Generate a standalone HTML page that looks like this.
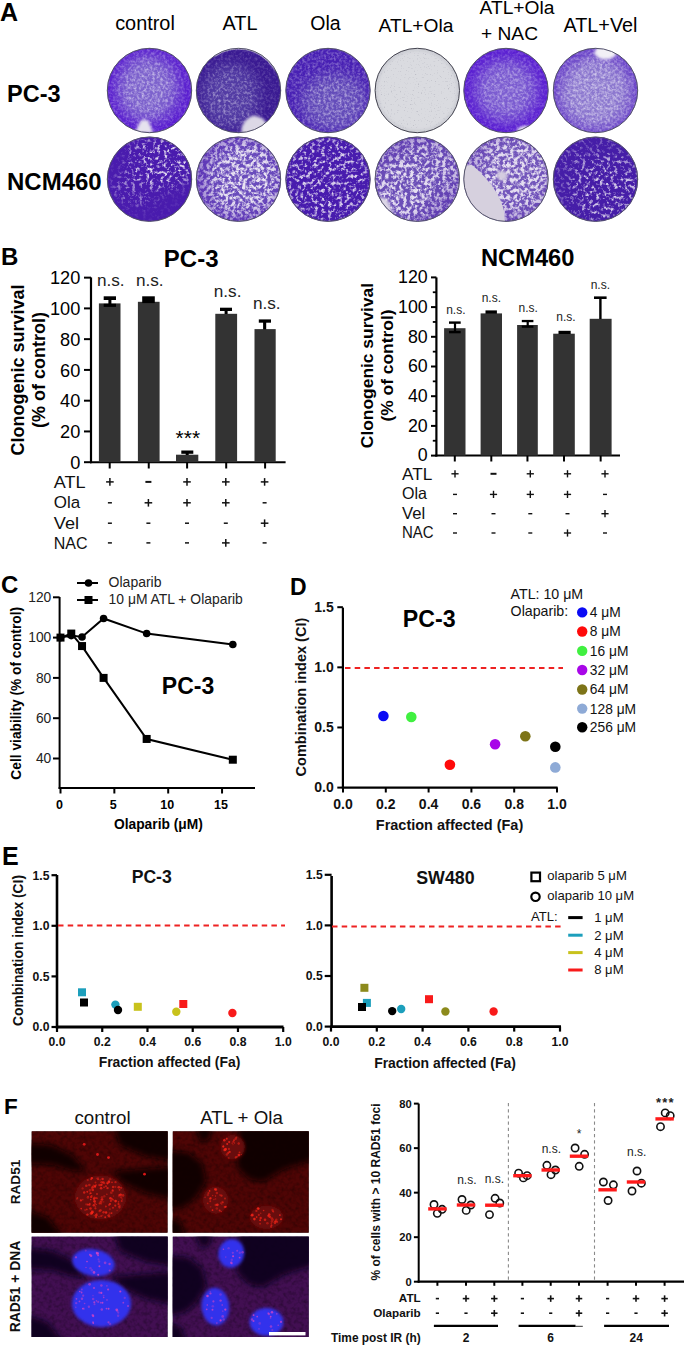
<!DOCTYPE html>
<html><head><meta charset="utf-8"><style>
html,body{margin:0;padding:0;background:#fff;}
svg{display:block;font-family:"Liberation Sans", sans-serif;}
</style></head><body>
<svg width="685" height="1346" viewBox="0 0 685 1346">
<defs>
<filter id="blur6" x="-20%" y="-20%" width="140%" height="140%"><feGaussianBlur stdDeviation="6"/></filter>
<filter id="blur1" x="-20%" y="-20%" width="140%" height="140%"><feGaussianBlur stdDeviation="1.5"/></filter>
<filter id="blur2" x="-30%" y="-30%" width="160%" height="160%"><feGaussianBlur stdDeviation="3"/></filter>
<filter id="blur4" x="-30%" y="-30%" width="160%" height="160%"><feGaussianBlur stdDeviation="5"/></filter>
<filter id="blur3" x="-30%" y="-30%" width="160%" height="160%"><feGaussianBlur stdDeviation="3"/></filter>
<filter id="blurh" x="-100%" y="-100%" width="300%" height="300%"><feGaussianBlur stdDeviation="0.5"/></filter>
<filter id="grain" x="0" y="0" width="100%" height="100%">
<feTurbulence type="fractalNoise" baseFrequency="0.25" numOctaves="2" seed="21" result="n"/>
<feColorMatrix in="n" type="matrix" values="0 0 0 0 0  0 0 0 0 0  0 0 0 0 0  2.2 0 0 0 -0.9"/>
</filter>
<filter id="fociR" x="-10%" y="-10%" width="120%" height="120%">
<feTurbulence type="fractalNoise" baseFrequency="0.33" numOctaves="1" seed="11" result="n"/>
<feColorMatrix in="n" type="matrix" values="0 0 0 0 0  0 0 0 0 0  0 0 0 0 0  6 0 0 0 -3.3" result="a"/>
<feFlood flood-color="#ff2a1a" result="f"/>
<feComposite in="f" in2="a" operator="in" result="d"/>
<feGaussianBlur in="d" stdDeviation="0.4" result="db"/>
<feComposite in="db" in2="SourceAlpha" operator="in"/>
</filter>
<filter id="fociM" x="-10%" y="-10%" width="120%" height="120%">
<feTurbulence type="fractalNoise" baseFrequency="0.33" numOctaves="1" seed="5" result="n"/>
<feColorMatrix in="n" type="matrix" values="0 0 0 0 0  0 0 0 0 0  0 0 0 0 0  6 0 0 0 -3.5" result="a"/>
<feFlood flood-color="#d840d0" result="f"/>
<feComposite in="f" in2="a" operator="in" result="d"/>
<feGaussianBlur in="d" stdDeviation="0.4" result="db"/>
<feComposite in="db" in2="SourceAlpha" operator="in"/>
</filter>
<clipPath id="dc0"><circle cx="149.5" cy="90.5" r="42.6"/></clipPath>
<mask id="dm0" maskUnits="userSpaceOnUse" x="101.9" y="42.9" width="95.2" height="95.2"><g filter="url(#blur6)"><rect x="101.9" y="42.9" width="95.2" height="95.2" fill="rgb(0,0,0)"/><ellipse cx="147.5" cy="88.5" rx="26" ry="28" fill="#fff" opacity="0.85"/></g></mask>
<mask id="dm0n" maskUnits="userSpaceOnUse" x="101.9" y="42.9" width="95.2" height="95.2"><g filter="url(#blur6)"><rect x="101.9" y="42.9" width="95.2" height="95.2" fill="rgb(114,114,114)"/><ellipse cx="147.5" cy="88.5" rx="26" ry="28" fill="#fff" opacity="0.85"/></g></mask>
<filter id="df0" x="0" y="0" width="100%" height="100%" filterUnits="objectBoundingBox"><feTurbulence type="fractalNoise" baseFrequency="0.38" numOctaves="3" seed="3" result="n"/><feColorMatrix in="n" type="matrix" values="0 0 0 0 0  0 0 0 0 0  0 0 0 0 0  1.3 0 0 0 -0.5" result="a"/><feFlood flood-color="#ffffff" result="f"/><feComposite in="f" in2="a" operator="in" result="c"/><feGaussianBlur in="c" stdDeviation="0.35"/></filter>
<clipPath id="dc1"><circle cx="238.5" cy="90.5" r="42.6"/></clipPath>
<mask id="dm1" maskUnits="userSpaceOnUse" x="190.9" y="42.9" width="95.2" height="95.2"><g filter="url(#blur6)"><rect x="190.9" y="42.9" width="95.2" height="95.2" fill="rgb(0,0,0)"/><ellipse cx="230.5" cy="96.5" rx="24" ry="28" fill="#fff" opacity="0.7"/></g></mask>
<mask id="dm1n" maskUnits="userSpaceOnUse" x="190.9" y="42.9" width="95.2" height="95.2"><g filter="url(#blur6)"><rect x="190.9" y="42.9" width="95.2" height="95.2" fill="rgb(89,89,89)"/><ellipse cx="230.5" cy="96.5" rx="24" ry="28" fill="#fff" opacity="0.7"/></g></mask>
<filter id="df1" x="0" y="0" width="100%" height="100%" filterUnits="objectBoundingBox"><feTurbulence type="fractalNoise" baseFrequency="0.38" numOctaves="3" seed="10" result="n"/><feColorMatrix in="n" type="matrix" values="0 0 0 0 0  0 0 0 0 0  0 0 0 0 0  1.3 0 0 0 -0.55" result="a"/><feFlood flood-color="#ffffff" result="f"/><feComposite in="f" in2="a" operator="in" result="c"/><feGaussianBlur in="c" stdDeviation="0.35"/></filter>
<clipPath id="dc2"><circle cx="328" cy="90.5" r="42.6"/></clipPath>
<mask id="dm2" maskUnits="userSpaceOnUse" x="280.4" y="42.9" width="95.2" height="95.2"><g filter="url(#blur6)"><rect x="280.4" y="42.9" width="95.2" height="95.2" fill="rgb(0,0,0)"/><ellipse cx="334" cy="102.5" rx="28" ry="24" fill="#fff" opacity="0.7"/></g></mask>
<mask id="dm2n" maskUnits="userSpaceOnUse" x="280.4" y="42.9" width="95.2" height="95.2"><g filter="url(#blur6)"><rect x="280.4" y="42.9" width="95.2" height="95.2" fill="rgb(140,140,140)"/><ellipse cx="334" cy="102.5" rx="28" ry="24" fill="#fff" opacity="0.7"/></g></mask>
<filter id="df2" x="0" y="0" width="100%" height="100%" filterUnits="objectBoundingBox"><feTurbulence type="fractalNoise" baseFrequency="0.38" numOctaves="3" seed="17" result="n"/><feColorMatrix in="n" type="matrix" values="0 0 0 0 0  0 0 0 0 0  0 0 0 0 0  1.3 0 0 0 -0.5" result="a"/><feFlood flood-color="#ffffff" result="f"/><feComposite in="f" in2="a" operator="in" result="c"/><feGaussianBlur in="c" stdDeviation="0.35"/></filter>
<clipPath id="dc3"><circle cx="417.3" cy="90.5" r="42.6"/></clipPath>
<mask id="dm3" maskUnits="userSpaceOnUse" x="369.7" y="42.9" width="95.2" height="95.2"><g filter="url(#blur6)"><rect x="369.7" y="42.9" width="95.2" height="95.2" fill="rgb(127,127,127)"/></g></mask>
<mask id="dm3n" maskUnits="userSpaceOnUse" x="369.7" y="42.9" width="95.2" height="95.2"><g filter="url(#blur6)"><rect x="369.7" y="42.9" width="95.2" height="95.2" fill="rgb(127,127,127)"/></g></mask>
<filter id="df3" x="0" y="0" width="100%" height="100%" filterUnits="objectBoundingBox"><feTurbulence type="fractalNoise" baseFrequency="0.7" numOctaves="2" seed="24" result="n"/><feColorMatrix in="n" type="matrix" values="0 0 0 0 0  0 0 0 0 0  0 0 0 0 0  3.0 0 0 0 -1.9" result="a"/><feFlood flood-color="#8a8a9a" result="f"/><feComposite in="f" in2="a" operator="in" result="c"/><feGaussianBlur in="c" stdDeviation="0.35"/></filter>
<clipPath id="dc4"><circle cx="506" cy="90.5" r="42.6"/></clipPath>
<mask id="dm4" maskUnits="userSpaceOnUse" x="458.4" y="42.9" width="95.2" height="95.2"><g filter="url(#blur6)"><rect x="458.4" y="42.9" width="95.2" height="95.2" fill="rgb(0,0,0)"/><ellipse cx="506" cy="90.5" rx="26" ry="26" fill="#fff" opacity="0.7"/></g></mask>
<mask id="dm4n" maskUnits="userSpaceOnUse" x="458.4" y="42.9" width="95.2" height="95.2"><g filter="url(#blur6)"><rect x="458.4" y="42.9" width="95.2" height="95.2" fill="rgb(102,102,102)"/><ellipse cx="506" cy="90.5" rx="26" ry="26" fill="#fff" opacity="0.7"/></g></mask>
<filter id="df4" x="0" y="0" width="100%" height="100%" filterUnits="objectBoundingBox"><feTurbulence type="fractalNoise" baseFrequency="0.38" numOctaves="3" seed="31" result="n"/><feColorMatrix in="n" type="matrix" values="0 0 0 0 0  0 0 0 0 0  0 0 0 0 0  1.3 0 0 0 -0.5" result="a"/><feFlood flood-color="#ffffff" result="f"/><feComposite in="f" in2="a" operator="in" result="c"/><feGaussianBlur in="c" stdDeviation="0.35"/></filter>
<clipPath id="dc5"><circle cx="595.5" cy="90.5" r="42.6"/></clipPath>
<mask id="dm5" maskUnits="userSpaceOnUse" x="547.9" y="42.9" width="95.2" height="95.2"><g filter="url(#blur6)"><rect x="547.9" y="42.9" width="95.2" height="95.2" fill="rgb(0,0,0)"/><ellipse cx="595.5" cy="92.5" rx="32" ry="32" fill="#fff" opacity="0.85"/></g></mask>
<mask id="dm5n" maskUnits="userSpaceOnUse" x="547.9" y="42.9" width="95.2" height="95.2"><g filter="url(#blur6)"><rect x="547.9" y="42.9" width="95.2" height="95.2" fill="rgb(127,127,127)"/><ellipse cx="595.5" cy="92.5" rx="32" ry="32" fill="#fff" opacity="0.85"/></g></mask>
<filter id="df5" x="0" y="0" width="100%" height="100%" filterUnits="objectBoundingBox"><feTurbulence type="fractalNoise" baseFrequency="0.38" numOctaves="3" seed="38" result="n"/><feColorMatrix in="n" type="matrix" values="0 0 0 0 0  0 0 0 0 0  0 0 0 0 0  1.3 0 0 0 -0.45" result="a"/><feFlood flood-color="#ffffff" result="f"/><feComposite in="f" in2="a" operator="in" result="c"/><feGaussianBlur in="c" stdDeviation="0.35"/></filter>
<clipPath id="dc6"><circle cx="149.5" cy="179.2" r="42.6"/></clipPath>
<mask id="dm6" maskUnits="userSpaceOnUse" x="101.9" y="131.6" width="95.2" height="95.2"><g filter="url(#blur6)"><rect x="101.9" y="131.6" width="95.2" height="95.2" fill="rgb(25,25,25)"/><ellipse cx="161.5" cy="163.2" rx="32" ry="22" fill="#fff" opacity="1.0"/><ellipse cx="137.5" cy="187.2" rx="22" ry="16" fill="#fff" opacity="0.5"/></g></mask>
<mask id="dm6n" maskUnits="userSpaceOnUse" x="101.9" y="131.6" width="95.2" height="95.2"><g filter="url(#blur6)"><rect x="101.9" y="131.6" width="95.2" height="95.2" fill="rgb(25,25,25)"/><ellipse cx="161.5" cy="163.2" rx="32" ry="22" fill="#fff" opacity="1.0"/><ellipse cx="137.5" cy="187.2" rx="22" ry="16" fill="#fff" opacity="0.5"/></g></mask>
<filter id="df6" x="0" y="0" width="100%" height="100%" filterUnits="objectBoundingBox"><feTurbulence type="fractalNoise" baseFrequency="0.28" numOctaves="4" seed="45" result="n"/><feColorMatrix in="n" type="matrix" values="0 0 0 0 0  0 0 0 0 0  0 0 0 0 0  4.0 0 0 0 -2.0" result="a"/><feFlood flood-color="#e8e2f2" result="f"/><feComposite in="f" in2="a" operator="in" result="c"/><feGaussianBlur in="c" stdDeviation="0.35"/></filter>
<clipPath id="dc7"><circle cx="238.5" cy="179.2" r="42.6"/></clipPath>
<mask id="dm7" maskUnits="userSpaceOnUse" x="190.9" y="131.6" width="95.2" height="95.2"><g filter="url(#blur6)"><rect x="190.9" y="131.6" width="95.2" height="95.2" fill="rgb(127,127,127)"/><ellipse cx="244.5" cy="177.2" rx="34" ry="34" fill="#fff" opacity="1.0"/><ellipse cx="228.5" cy="199.2" rx="20" ry="15" fill="#fff" opacity="0.5"/></g></mask>
<mask id="dm7n" maskUnits="userSpaceOnUse" x="190.9" y="131.6" width="95.2" height="95.2"><g filter="url(#blur6)"><rect x="190.9" y="131.6" width="95.2" height="95.2" fill="rgb(127,127,127)"/><ellipse cx="244.5" cy="177.2" rx="34" ry="34" fill="#fff" opacity="1.0"/><ellipse cx="228.5" cy="199.2" rx="20" ry="15" fill="#fff" opacity="0.5"/></g></mask>
<filter id="df7" x="0" y="0" width="100%" height="100%" filterUnits="objectBoundingBox"><feTurbulence type="fractalNoise" baseFrequency="0.28" numOctaves="4" seed="52" result="n"/><feColorMatrix in="n" type="matrix" values="0 0 0 0 0  0 0 0 0 0  0 0 0 0 0  4.0 0 0 0 -1.6" result="a"/><feFlood flood-color="#e8e2f2" result="f"/><feComposite in="f" in2="a" operator="in" result="c"/><feGaussianBlur in="c" stdDeviation="0.35"/></filter>
<clipPath id="dc8"><circle cx="328" cy="179.2" r="42.6"/></clipPath>
<mask id="dm8" maskUnits="userSpaceOnUse" x="280.4" y="131.6" width="95.2" height="95.2"><g filter="url(#blur6)"><rect x="280.4" y="131.6" width="95.2" height="95.2" fill="rgb(127,127,127)"/><ellipse cx="328" cy="179.2" rx="40" ry="40" fill="#fff" opacity="0.8"/></g></mask>
<mask id="dm8n" maskUnits="userSpaceOnUse" x="280.4" y="131.6" width="95.2" height="95.2"><g filter="url(#blur6)"><rect x="280.4" y="131.6" width="95.2" height="95.2" fill="rgb(127,127,127)"/><ellipse cx="328" cy="179.2" rx="40" ry="40" fill="#fff" opacity="0.8"/></g></mask>
<filter id="df8" x="0" y="0" width="100%" height="100%" filterUnits="objectBoundingBox"><feTurbulence type="fractalNoise" baseFrequency="0.28" numOctaves="4" seed="59" result="n"/><feColorMatrix in="n" type="matrix" values="0 0 0 0 0  0 0 0 0 0  0 0 0 0 0  4.0 0 0 0 -1.95" result="a"/><feFlood flood-color="#e8e2f2" result="f"/><feComposite in="f" in2="a" operator="in" result="c"/><feGaussianBlur in="c" stdDeviation="0.35"/></filter>
<clipPath id="dc9"><circle cx="417.3" cy="179.2" r="42.6"/></clipPath>
<mask id="dm9" maskUnits="userSpaceOnUse" x="369.7" y="131.6" width="95.2" height="95.2"><g filter="url(#blur6)"><rect x="369.7" y="131.6" width="95.2" height="95.2" fill="rgb(153,153,153)"/><ellipse cx="402.3" cy="189.2" rx="30" ry="30" fill="#fff" opacity="0.9"/><ellipse cx="427.3" cy="169.2" rx="30" ry="25" fill="#fff" opacity="0.7"/></g></mask>
<mask id="dm9n" maskUnits="userSpaceOnUse" x="369.7" y="131.6" width="95.2" height="95.2"><g filter="url(#blur6)"><rect x="369.7" y="131.6" width="95.2" height="95.2" fill="rgb(153,153,153)"/><ellipse cx="402.3" cy="189.2" rx="30" ry="30" fill="#fff" opacity="0.9"/><ellipse cx="427.3" cy="169.2" rx="30" ry="25" fill="#fff" opacity="0.7"/></g></mask>
<filter id="df9" x="0" y="0" width="100%" height="100%" filterUnits="objectBoundingBox"><feTurbulence type="fractalNoise" baseFrequency="0.28" numOctaves="4" seed="66" result="n"/><feColorMatrix in="n" type="matrix" values="0 0 0 0 0  0 0 0 0 0  0 0 0 0 0  4.0 0 0 0 -1.65" result="a"/><feFlood flood-color="#e8e2f2" result="f"/><feComposite in="f" in2="a" operator="in" result="c"/><feGaussianBlur in="c" stdDeviation="0.35"/></filter>
<clipPath id="dc10"><circle cx="506" cy="179.2" r="42.6"/></clipPath>
<mask id="dm10" maskUnits="userSpaceOnUse" x="458.4" y="131.6" width="95.2" height="95.2"><g filter="url(#blur6)"><rect x="458.4" y="131.6" width="95.2" height="95.2" fill="rgb(165,165,165)"/><ellipse cx="514" cy="174.2" rx="35" ry="35" fill="#fff" opacity="0.9"/></g></mask>
<mask id="dm10n" maskUnits="userSpaceOnUse" x="458.4" y="131.6" width="95.2" height="95.2"><g filter="url(#blur6)"><rect x="458.4" y="131.6" width="95.2" height="95.2" fill="rgb(165,165,165)"/><ellipse cx="514" cy="174.2" rx="35" ry="35" fill="#fff" opacity="0.9"/></g></mask>
<filter id="df10" x="0" y="0" width="100%" height="100%" filterUnits="objectBoundingBox"><feTurbulence type="fractalNoise" baseFrequency="0.28" numOctaves="4" seed="73" result="n"/><feColorMatrix in="n" type="matrix" values="0 0 0 0 0  0 0 0 0 0  0 0 0 0 0  4.0 0 0 0 -1.6" result="a"/><feFlood flood-color="#e8e2f2" result="f"/><feComposite in="f" in2="a" operator="in" result="c"/><feGaussianBlur in="c" stdDeviation="0.35"/></filter>
<clipPath id="dc11"><circle cx="595.5" cy="179.2" r="42.6"/></clipPath>
<mask id="dm11" maskUnits="userSpaceOnUse" x="547.9" y="131.6" width="95.2" height="95.2"><g filter="url(#blur6)"><rect x="547.9" y="131.6" width="95.2" height="95.2" fill="rgb(89,89,89)"/><ellipse cx="605.5" cy="189.2" rx="32" ry="32" fill="#fff" opacity="0.8"/><ellipse cx="580.5" cy="164.2" rx="15" ry="15" fill="#fff" opacity="0.2"/></g></mask>
<mask id="dm11n" maskUnits="userSpaceOnUse" x="547.9" y="131.6" width="95.2" height="95.2"><g filter="url(#blur6)"><rect x="547.9" y="131.6" width="95.2" height="95.2" fill="rgb(89,89,89)"/><ellipse cx="605.5" cy="189.2" rx="32" ry="32" fill="#fff" opacity="0.8"/><ellipse cx="580.5" cy="164.2" rx="15" ry="15" fill="#fff" opacity="0.2"/></g></mask>
<filter id="df11" x="0" y="0" width="100%" height="100%" filterUnits="objectBoundingBox"><feTurbulence type="fractalNoise" baseFrequency="0.28" numOctaves="4" seed="80" result="n"/><feColorMatrix in="n" type="matrix" values="0 0 0 0 0  0 0 0 0 0  0 0 0 0 0  4.0 0 0 0 -2.0" result="a"/><feFlood flood-color="#e8e2f2" result="f"/><feComposite in="f" in2="a" operator="in" result="c"/><feGaussianBlur in="c" stdDeviation="0.35"/></filter>
<clipPath id="cl_rc"><rect x="31.5" y="1131.2" width="136.2" height="101.6"/></clipPath>
<clipPath id="cl_ra"><rect x="172.6" y="1131.2" width="136.2" height="101.6"/></clipPath>
<clipPath id="cl_bc"><rect x="31.5" y="1236.5" width="136.2" height="100.5"/></clipPath>
<clipPath id="cl_ba"><rect x="172.6" y="1236.5" width="136.2" height="100.5"/></clipPath>
</defs>
<rect width="685" height="1346" fill="#fff"/>
<text x="0" y="21" font-size="25" font-weight="bold" text-anchor="start" fill="#000">A</text>
<text x="145" y="30" font-size="19.9" text-anchor="middle" fill="#000">control</text>
<text x="240" y="30" font-size="19.9" text-anchor="middle" fill="#000">ATL</text>
<text x="325.5" y="30" font-size="19.5" text-anchor="middle" fill="#000">Ola</text>
<text x="416" y="31.5" font-size="19.2" text-anchor="middle" fill="#000">ATL+Ola</text>
<text x="517" y="14" font-size="19.2" text-anchor="middle" fill="#000">ATL+Ola</text>
<text x="509.5" y="40" font-size="19.2" text-anchor="middle" fill="#000">+ NAC</text>
<text x="600.5" y="32" font-size="19.8" text-anchor="middle" fill="#000">ATL+Vel</text>
<text x="7" y="102" font-size="23.5" font-weight="bold" text-anchor="start" fill="#000">PC-3</text>
<text x="7" y="189.6" font-size="24" font-weight="bold" text-anchor="start" fill="#000">NCM460</text>
<g clip-path="url(#dc0)">
<circle cx="149.5" cy="90.5" r="42.6" fill="#5a1ed0"/>
<rect x="106.9" y="47.9" width="85.2" height="85.2" fill="#8470cc" mask="url(#dm0)"/>
<g mask="url(#dm0n)"><rect x="106.9" y="47.9" width="85.2" height="85.2" filter="url(#df0)" fill="#fff"/></g>
<path d="M0 0 l6 -12 q3 -3 8 0 l5 12 z" transform="translate(149.5 90.5) translate(-15 42.6)" fill="#e6e2ee" filter="url(#blur1)"/>
</g>
<circle cx="149.5" cy="90.5" r="42.2" fill="none" stroke="#55556a" stroke-width="1"/>
<g clip-path="url(#dc1)">
<circle cx="238.5" cy="90.5" r="42.6" fill="#3a1a92"/>
<rect x="195.9" y="47.9" width="85.2" height="85.2" fill="#5e4cac" mask="url(#dm1)"/>
<g mask="url(#dm1n)"><rect x="195.9" y="47.9" width="85.2" height="85.2" filter="url(#df1)" fill="#fff"/></g>
<path d="M0 0 q2 -10 12 -13 q10 1 13 8 q-2 8 -8 12 l-17 0 z" transform="translate(238.5 90.5) translate(3 38)" fill="#dcd8e6" filter="url(#blur1)"/>
<circle cx="238.5" cy="90.5" r="42" fill="none" stroke="#d4d0e0" stroke-width="1.6" stroke-dasharray="70 400" transform="rotate(-125 238.5 90.5)" filter="url(#blurh)"/>
</g>
<circle cx="238.5" cy="90.5" r="42.2" fill="none" stroke="#55556a" stroke-width="1"/>
<g clip-path="url(#dc2)">
<circle cx="328" cy="90.5" r="42.6" fill="#4820b4"/>
<rect x="285.4" y="47.9" width="85.2" height="85.2" fill="#7060bc" mask="url(#dm2)"/>
<g mask="url(#dm2n)"><rect x="285.4" y="47.9" width="85.2" height="85.2" filter="url(#df2)" fill="#fff"/></g>
</g>
<circle cx="328" cy="90.5" r="42.2" fill="none" stroke="#55556a" stroke-width="1"/>
<g clip-path="url(#dc3)">
<circle cx="417.3" cy="90.5" r="42.6" fill="#d8d9de"/>
<rect x="374.7" y="47.9" width="85.2" height="85.2" fill="#dcdde2" mask="url(#dm3)"/>
<g mask="url(#dm3n)"><rect x="374.7" y="47.9" width="85.2" height="85.2" filter="url(#df3)" fill="#fff"/></g>
<circle cx="417.3" cy="90.5" r="41" fill="none" stroke="#c4c6ce" stroke-width="2" filter="url(#blur1)"/>
</g>
<circle cx="417.3" cy="90.5" r="42.2" fill="none" stroke="#444450" stroke-width="1"/>
<g clip-path="url(#dc4)">
<circle cx="506" cy="90.5" r="42.6" fill="#5a1ed2"/>
<rect x="463.4" y="47.9" width="85.2" height="85.2" fill="#8a78d0" mask="url(#dm4)"/>
<g mask="url(#dm4n)"><rect x="463.4" y="47.9" width="85.2" height="85.2" filter="url(#df4)" fill="#fff"/></g>
<ellipse cx="0" cy="0" rx="9" ry="4.5" transform="translate(506 90.5) translate(20 40)" fill="#eceaf2" filter="url(#blur1)"/>
</g>
<circle cx="506" cy="90.5" r="42.2" fill="none" stroke="#55556a" stroke-width="1"/>
<g clip-path="url(#dc5)">
<circle cx="595.5" cy="90.5" r="42.6" fill="#6236c8"/>
<rect x="552.9" y="47.9" width="85.2" height="85.2" fill="#9484d0" mask="url(#dm5)"/>
<g mask="url(#dm5n)"><rect x="552.9" y="47.9" width="85.2" height="85.2" filter="url(#df5)" fill="#fff"/></g>
<ellipse cx="0" cy="0" rx="11" ry="7" transform="translate(595.5 90.5) translate(10 -38)" fill="#f2f0f6" filter="url(#blur1)"/>
</g>
<circle cx="595.5" cy="90.5" r="42.2" fill="none" stroke="#55556a" stroke-width="1"/>
<g clip-path="url(#dc6)">
<circle cx="149.5" cy="179.2" r="42.6" fill="#4a1cae"/>
<rect x="106.9" y="136.6" width="85.2" height="85.2" fill="#4a1cae" mask="url(#dm6)"/>
<g mask="url(#dm6n)"><rect x="106.9" y="136.6" width="85.2" height="85.2" filter="url(#df6)" fill="#fff"/></g>
</g>
<circle cx="149.5" cy="179.2" r="42.2" fill="none" stroke="#55556a" stroke-width="1"/>
<g clip-path="url(#dc7)">
<circle cx="238.5" cy="179.2" r="42.6" fill="#5424b2"/>
<rect x="195.9" y="136.6" width="85.2" height="85.2" fill="#6a4cbc" mask="url(#dm7)"/>
<g mask="url(#dm7n)"><rect x="195.9" y="136.6" width="85.2" height="85.2" filter="url(#df7)" fill="#fff"/></g>
</g>
<circle cx="238.5" cy="179.2" r="42.2" fill="none" stroke="#55556a" stroke-width="1"/>
<g clip-path="url(#dc8)">
<circle cx="328" cy="179.2" r="42.6" fill="#481cae"/>
<rect x="285.4" y="136.6" width="85.2" height="85.2" fill="#481cae" mask="url(#dm8)"/>
<g mask="url(#dm8n)"><rect x="285.4" y="136.6" width="85.2" height="85.2" filter="url(#df8)" fill="#fff"/></g>
</g>
<circle cx="328" cy="179.2" r="42.2" fill="none" stroke="#55556a" stroke-width="1"/>
<g clip-path="url(#dc9)">
<circle cx="417.3" cy="179.2" r="42.6" fill="#5226aa"/>
<rect x="374.7" y="136.6" width="85.2" height="85.2" fill="#6c50b8" mask="url(#dm9)"/>
<g mask="url(#dm9n)"><rect x="374.7" y="136.6" width="85.2" height="85.2" filter="url(#df9)" fill="#fff"/></g>
<path d="M0 0 q8 -4 14 0 q6 10 4 24 l-20 0 z" transform="translate(417.3 179.2) translate(-44 20)" fill="#dcd6e6" filter="url(#blur1)"/>
</g>
<circle cx="417.3" cy="179.2" r="42.2" fill="none" stroke="#55556a" stroke-width="1"/>
<g clip-path="url(#dc10)">
<circle cx="506" cy="179.2" r="42.6" fill="#5428a8"/>
<rect x="463.4" y="136.6" width="85.2" height="85.2" fill="#7458bc" mask="url(#dm10)"/>
<g mask="url(#dm10n)"><rect x="463.4" y="136.6" width="85.2" height="85.2" filter="url(#df10)" fill="#fff"/></g>
<path d="M-46 -13 L-40 -13 L-34.6 -14.8 L-29.2 -10.1 L-21.1 -2 L-14.4 6 L-9 14.1 L-5 22.2 L-2.3 30.2 L-1 44 L-46 44 Z" transform="translate(506 179.2)" fill="#d6d0de" filter="url(#blurh)"/>
<ellipse cx="0" cy="0" rx="5.4" ry="5" transform="translate(506 179.2) translate(-3.7 -3.4)" fill="#d4cce0" filter="url(#blur1)"/>
</g>
<circle cx="506" cy="179.2" r="42.2" fill="none" stroke="#55556a" stroke-width="1"/>
<g clip-path="url(#dc11)">
<circle cx="595.5" cy="179.2" r="42.6" fill="#461ea8"/>
<rect x="552.9" y="136.6" width="85.2" height="85.2" fill="#461ea8" mask="url(#dm11)"/>
<g mask="url(#dm11n)"><rect x="552.9" y="136.6" width="85.2" height="85.2" filter="url(#df11)" fill="#fff"/></g>
</g>
<circle cx="595.5" cy="179.2" r="42.2" fill="none" stroke="#55556a" stroke-width="1"/>
<text x="1" y="265" font-size="24" font-weight="bold" text-anchor="start" fill="#000">B</text>
<text x="191.2" y="267" font-size="24" font-weight="bold" text-anchor="middle" fill="#000">PC-3</text>
<line x1="91" y1="277.4" x2="91" y2="463.2" stroke="#000" stroke-width="2.2"/>
<line x1="84" y1="462.2" x2="91" y2="462.2" stroke="#000" stroke-width="2"/>
<text x="80.3" y="468.8" font-size="18.2" text-anchor="end" fill="#000">0</text>
<line x1="84" y1="431.44" x2="91" y2="431.44" stroke="#000" stroke-width="2"/>
<text x="80.3" y="438.04" font-size="18.2" text-anchor="end" fill="#000">20</text>
<line x1="84" y1="400.68" x2="91" y2="400.68" stroke="#000" stroke-width="2"/>
<text x="80.3" y="407.28000000000003" font-size="18.2" text-anchor="end" fill="#000">40</text>
<line x1="84" y1="369.91999999999996" x2="91" y2="369.91999999999996" stroke="#000" stroke-width="2"/>
<text x="80.3" y="376.52" font-size="18.2" text-anchor="end" fill="#000">60</text>
<line x1="84" y1="339.15999999999997" x2="91" y2="339.15999999999997" stroke="#000" stroke-width="2"/>
<text x="80.3" y="345.76" font-size="18.2" text-anchor="end" fill="#000">80</text>
<line x1="84" y1="308.4" x2="91" y2="308.4" stroke="#000" stroke-width="2"/>
<text x="80.3" y="315.0" font-size="18.2" text-anchor="end" fill="#000">100</text>
<line x1="84" y1="277.64" x2="91" y2="277.64" stroke="#000" stroke-width="2"/>
<text x="80.3" y="284.24" font-size="18.2" text-anchor="end" fill="#000">120</text>
<line x1="90" y1="462.2" x2="285.6" y2="462.2" stroke="#000" stroke-width="2"/>
<rect x="98.9" y="303.4" width="21.599999999999994" height="158.8" fill="#333"/>
<rect x="137.9" y="301.8" width="21.69999999999999" height="160.39999999999998" fill="#333"/>
<rect x="176" y="454.7" width="22.30000000000001" height="7.5" fill="#333"/>
<rect x="215.3" y="313.8" width="21.799999999999983" height="148.39999999999998" fill="#333"/>
<rect x="254.5" y="329.1" width="21.19999999999999" height="133.09999999999997" fill="#333"/>
<rect x="103.7" y="296.3" width="12.3" height="3.7" fill="#000"/>
<rect x="108.4" y="299" width="3" height="6" fill="#000"/>
<rect x="103.7" y="303.8" width="12.3" height="3.1" fill="#000"/>
<rect x="142.2" y="296.3" width="12.6" height="6.8" fill="#000"/>
<rect x="181.3" y="450.5" width="12" height="3.3" fill="#000"/>
<rect x="185.7" y="453" width="3" height="2" fill="#000"/>
<rect x="220" y="307.7" width="12" height="3.3" fill="#000"/>
<rect x="224.6" y="310" width="3" height="4" fill="#000"/>
<rect x="258.8" y="319.4" width="12.2" height="3.3" fill="#000"/>
<rect x="263.1" y="322" width="3.1" height="7.5" fill="#000"/>
<line x1="109.7" y1="462.2" x2="109.7" y2="468.5" stroke="#000" stroke-width="2"/>
<line x1="148.75" y1="462.2" x2="148.75" y2="468.5" stroke="#000" stroke-width="2"/>
<line x1="187.1" y1="462.2" x2="187.1" y2="468.5" stroke="#000" stroke-width="2"/>
<line x1="226.2" y1="462.2" x2="226.2" y2="468.5" stroke="#000" stroke-width="2"/>
<line x1="265.1" y1="462.2" x2="265.1" y2="468.5" stroke="#000" stroke-width="2"/>
<text x="110.8" y="285.5" font-size="17.2" text-anchor="middle" fill="#222">n.s.</text>
<text x="149.8" y="285.5" font-size="17.2" text-anchor="middle" fill="#222">n.s.</text>
<text x="227.6" y="297.3" font-size="17.2" text-anchor="middle" fill="#222">n.s.</text>
<text x="266.8" y="309.3" font-size="17.2" text-anchor="middle" fill="#222">n.s.</text>
<text x="187.8" y="445" font-size="21" text-anchor="middle" fill="#000">***</text>
<text x="24" y="370" font-size="18" font-weight="bold" text-anchor="middle" fill="#000" transform="rotate(-90 24 370)">Clonogenic survival</text>
<text x="44.5" y="370" font-size="18" font-weight="bold" text-anchor="middle" fill="#000" transform="rotate(-90 44.5 370)">(% of control)</text>
<text x="53.8" y="488.3" font-size="16.8" text-anchor="start" fill="#111" textLength="31.8" lengthAdjust="spacingAndGlyphs">ATL</text>
<text x="53.8" y="508.3" font-size="16.8" text-anchor="start" fill="#111" textLength="26.4" lengthAdjust="spacingAndGlyphs">Ola</text>
<text x="53.8" y="528.5" font-size="16.8" text-anchor="start" fill="#111" textLength="25.2" lengthAdjust="spacingAndGlyphs">Vel</text>
<text x="53.8" y="549" font-size="16.8" text-anchor="start" fill="#111" textLength="33.8" lengthAdjust="spacingAndGlyphs">NAC</text>
<line x1="106.10000000000001" y1="481.9" x2="113.7" y2="481.9" stroke="#111" stroke-width="1.5"/>
<line x1="109.9" y1="478.09999999999997" x2="109.9" y2="485.7" stroke="#111" stroke-width="1.5"/>
<line x1="145.4" y1="481.9" x2="151.4" y2="481.9" stroke="#111" stroke-width="2"/>
<line x1="183.2" y1="481.9" x2="190.8" y2="481.9" stroke="#111" stroke-width="1.5"/>
<line x1="187" y1="478.09999999999997" x2="187" y2="485.7" stroke="#111" stroke-width="1.5"/>
<line x1="222.0" y1="481.9" x2="229.60000000000002" y2="481.9" stroke="#111" stroke-width="1.5"/>
<line x1="225.8" y1="478.09999999999997" x2="225.8" y2="485.7" stroke="#111" stroke-width="1.5"/>
<line x1="260.8" y1="481.9" x2="268.40000000000003" y2="481.9" stroke="#111" stroke-width="1.5"/>
<line x1="264.6" y1="478.09999999999997" x2="264.6" y2="485.7" stroke="#111" stroke-width="1.5"/>
<line x1="107.9" y1="502.8" x2="111.9" y2="502.8" stroke="#111" stroke-width="1.5"/>
<line x1="144.6" y1="502.8" x2="152.20000000000002" y2="502.8" stroke="#111" stroke-width="1.5"/>
<line x1="148.4" y1="499.0" x2="148.4" y2="506.6" stroke="#111" stroke-width="1.5"/>
<line x1="183.2" y1="502.8" x2="190.8" y2="502.8" stroke="#111" stroke-width="1.5"/>
<line x1="187" y1="499.0" x2="187" y2="506.6" stroke="#111" stroke-width="1.5"/>
<line x1="222.0" y1="502.8" x2="229.60000000000002" y2="502.8" stroke="#111" stroke-width="1.5"/>
<line x1="225.8" y1="499.0" x2="225.8" y2="506.6" stroke="#111" stroke-width="1.5"/>
<line x1="262.6" y1="502.8" x2="266.6" y2="502.8" stroke="#111" stroke-width="1.5"/>
<line x1="107.9" y1="523.2" x2="111.9" y2="523.2" stroke="#111" stroke-width="1.5"/>
<line x1="146.4" y1="523.2" x2="150.4" y2="523.2" stroke="#111" stroke-width="1.5"/>
<line x1="185.0" y1="523.2" x2="189.0" y2="523.2" stroke="#111" stroke-width="1.5"/>
<line x1="223.8" y1="523.2" x2="227.8" y2="523.2" stroke="#111" stroke-width="1.5"/>
<line x1="260.8" y1="523.2" x2="268.40000000000003" y2="523.2" stroke="#111" stroke-width="1.5"/>
<line x1="264.6" y1="519.4000000000001" x2="264.6" y2="527.0" stroke="#111" stroke-width="1.5"/>
<line x1="107.9" y1="542.9" x2="111.9" y2="542.9" stroke="#111" stroke-width="1.5"/>
<line x1="146.4" y1="542.9" x2="150.4" y2="542.9" stroke="#111" stroke-width="1.5"/>
<line x1="185.0" y1="542.9" x2="189.0" y2="542.9" stroke="#111" stroke-width="1.5"/>
<line x1="222.0" y1="542.9" x2="229.60000000000002" y2="542.9" stroke="#111" stroke-width="1.5"/>
<line x1="225.8" y1="539.1" x2="225.8" y2="546.6999999999999" stroke="#111" stroke-width="1.5"/>
<line x1="262.6" y1="542.9" x2="266.6" y2="542.9" stroke="#111" stroke-width="1.5"/>
<text x="527.7" y="266" font-size="23.7" font-weight="bold" text-anchor="middle" fill="#000">NCM460</text>
<line x1="436.4" y1="277.4" x2="436.4" y2="456.6" stroke="#000" stroke-width="2.2"/>
<line x1="431" y1="455.6" x2="436.4" y2="455.6" stroke="#000" stroke-width="2"/>
<text x="427.7" y="461.40000000000003" font-size="17.8" text-anchor="end" fill="#000">0</text>
<line x1="432.8" y1="440.75" x2="436.4" y2="440.75" stroke="#000" stroke-width="1.8"/>
<line x1="431" y1="425.90000000000003" x2="436.4" y2="425.90000000000003" stroke="#000" stroke-width="2"/>
<text x="427.7" y="431.70000000000005" font-size="17.8" text-anchor="end" fill="#000">20</text>
<line x1="432.8" y1="411.05" x2="436.4" y2="411.05" stroke="#000" stroke-width="1.8"/>
<line x1="431" y1="396.20000000000005" x2="436.4" y2="396.20000000000005" stroke="#000" stroke-width="2"/>
<text x="427.7" y="402.00000000000006" font-size="17.8" text-anchor="end" fill="#000">40</text>
<line x1="432.8" y1="381.35" x2="436.4" y2="381.35" stroke="#000" stroke-width="1.8"/>
<line x1="431" y1="366.5" x2="436.4" y2="366.5" stroke="#000" stroke-width="2"/>
<text x="427.7" y="372.3" font-size="17.8" text-anchor="end" fill="#000">60</text>
<line x1="432.8" y1="351.65000000000003" x2="436.4" y2="351.65000000000003" stroke="#000" stroke-width="1.8"/>
<line x1="431" y1="336.8" x2="436.4" y2="336.8" stroke="#000" stroke-width="2"/>
<text x="427.7" y="342.6" font-size="17.8" text-anchor="end" fill="#000">80</text>
<line x1="432.8" y1="321.95000000000005" x2="436.4" y2="321.95000000000005" stroke="#000" stroke-width="1.8"/>
<line x1="431" y1="307.1" x2="436.4" y2="307.1" stroke="#000" stroke-width="2"/>
<text x="427.7" y="312.90000000000003" font-size="17.8" text-anchor="end" fill="#000">100</text>
<line x1="432.8" y1="292.25" x2="436.4" y2="292.25" stroke="#000" stroke-width="1.8"/>
<line x1="431" y1="277.4" x2="436.4" y2="277.4" stroke="#000" stroke-width="2"/>
<text x="427.7" y="283.2" font-size="17.8" text-anchor="end" fill="#000">120</text>
<line x1="435.4" y1="455.6" x2="620" y2="455.6" stroke="#000" stroke-width="2"/>
<rect x="444.1" y="328.2" width="21.399999999999977" height="127.40000000000003" fill="#333"/>
<rect x="480.6" y="313.4" width="21.399999999999977" height="142.20000000000005" fill="#333"/>
<rect x="517.1" y="325" width="20.699999999999932" height="130.60000000000002" fill="#333"/>
<rect x="553.2" y="333.7" width="21.59999999999991" height="121.90000000000003" fill="#333"/>
<rect x="589.7" y="318.8" width="21.899999999999977" height="136.8" fill="#333"/>
<rect x="449" y="321.4" width="11.7" height="2.4" fill="#000"/>
<rect x="453.9" y="322" width="2.2" height="10" fill="#000"/>
<rect x="449" y="330.9" width="11.7" height="2.4" fill="#000"/>
<rect x="485.5" y="310.4" width="11.4" height="3.4" fill="#000"/>
<rect x="521.8" y="319.9" width="11.6" height="2.3" fill="#000"/>
<rect x="526.6" y="321" width="2.2" height="5.5" fill="#000"/>
<rect x="521.8" y="325.6" width="11.6" height="2.2" fill="#000"/>
<rect x="558.5" y="330.8" width="12.2" height="3.2" fill="#000"/>
<rect x="594" y="296.4" width="12.6" height="2.6" fill="#000"/>
<rect x="599.2" y="297" width="2.4" height="22" fill="#000"/>
<line x1="454.8" y1="455.6" x2="454.8" y2="461.5" stroke="#000" stroke-width="2"/>
<line x1="491.3" y1="455.6" x2="491.3" y2="461.5" stroke="#000" stroke-width="2"/>
<line x1="527.45" y1="455.6" x2="527.45" y2="461.5" stroke="#000" stroke-width="2"/>
<line x1="564" y1="455.6" x2="564" y2="461.5" stroke="#000" stroke-width="2"/>
<line x1="600.65" y1="455.6" x2="600.65" y2="461.5" stroke="#000" stroke-width="2"/>
<text x="455.8" y="313.6" font-size="12" text-anchor="middle" fill="#222">n.s.</text>
<text x="491.3" y="302" font-size="12" text-anchor="middle" fill="#222">n.s.</text>
<text x="528.2" y="311.6" font-size="12" text-anchor="middle" fill="#222">n.s.</text>
<text x="566" y="321.4" font-size="12" text-anchor="middle" fill="#222">n.s.</text>
<text x="600.3" y="289" font-size="12" text-anchor="middle" fill="#222">n.s.</text>
<text x="372.5" y="365.5" font-size="17.4" font-weight="bold" text-anchor="middle" fill="#000" transform="rotate(-90 372.5 365.5)">Clonogenic survival</text>
<text x="392.6" y="365.5" font-size="17.4" font-weight="bold" text-anchor="middle" fill="#000" transform="rotate(-90 392.6 365.5)">(% of control)</text>
<text x="402" y="479.6" font-size="16.5" text-anchor="start" fill="#111" textLength="30.3" lengthAdjust="spacingAndGlyphs">ATL</text>
<text x="402" y="499.1" font-size="16.5" text-anchor="start" fill="#111" textLength="25" lengthAdjust="spacingAndGlyphs">Ola</text>
<text x="402" y="518.6" font-size="16.5" text-anchor="start" fill="#111" textLength="23.2" lengthAdjust="spacingAndGlyphs">Vel</text>
<text x="402" y="538" font-size="16.5" text-anchor="start" fill="#111" textLength="31.6" lengthAdjust="spacingAndGlyphs">NAC</text>
<line x1="451.4" y1="473.8" x2="458.6" y2="473.8" stroke="#111" stroke-width="1.4"/>
<line x1="455" y1="470.2" x2="455" y2="477.40000000000003" stroke="#111" stroke-width="1.4"/>
<line x1="490.5" y1="473.8" x2="496.5" y2="473.8" stroke="#111" stroke-width="2"/>
<line x1="526.6999999999999" y1="473.8" x2="533.9" y2="473.8" stroke="#111" stroke-width="1.4"/>
<line x1="530.3" y1="470.2" x2="530.3" y2="477.40000000000003" stroke="#111" stroke-width="1.4"/>
<line x1="563.9" y1="473.8" x2="571.1" y2="473.8" stroke="#111" stroke-width="1.4"/>
<line x1="567.5" y1="470.2" x2="567.5" y2="477.40000000000003" stroke="#111" stroke-width="1.4"/>
<line x1="601.4" y1="473.8" x2="608.6" y2="473.8" stroke="#111" stroke-width="1.4"/>
<line x1="605" y1="470.2" x2="605" y2="477.40000000000003" stroke="#111" stroke-width="1.4"/>
<line x1="453.0" y1="494.4" x2="457.0" y2="494.4" stroke="#111" stroke-width="1.4"/>
<line x1="489.9" y1="494.4" x2="497.1" y2="494.4" stroke="#111" stroke-width="1.4"/>
<line x1="493.5" y1="490.79999999999995" x2="493.5" y2="498.0" stroke="#111" stroke-width="1.4"/>
<line x1="526.6999999999999" y1="494.4" x2="533.9" y2="494.4" stroke="#111" stroke-width="1.4"/>
<line x1="530.3" y1="490.79999999999995" x2="530.3" y2="498.0" stroke="#111" stroke-width="1.4"/>
<line x1="563.9" y1="494.4" x2="571.1" y2="494.4" stroke="#111" stroke-width="1.4"/>
<line x1="567.5" y1="490.79999999999995" x2="567.5" y2="498.0" stroke="#111" stroke-width="1.4"/>
<line x1="603.0" y1="494.4" x2="607.0" y2="494.4" stroke="#111" stroke-width="1.4"/>
<line x1="453.0" y1="513.7" x2="457.0" y2="513.7" stroke="#111" stroke-width="1.4"/>
<line x1="491.5" y1="513.7" x2="495.5" y2="513.7" stroke="#111" stroke-width="1.4"/>
<line x1="528.3" y1="513.7" x2="532.3" y2="513.7" stroke="#111" stroke-width="1.4"/>
<line x1="565.5" y1="513.7" x2="569.5" y2="513.7" stroke="#111" stroke-width="1.4"/>
<line x1="601.4" y1="513.7" x2="608.6" y2="513.7" stroke="#111" stroke-width="1.4"/>
<line x1="605" y1="510.1" x2="605" y2="517.3000000000001" stroke="#111" stroke-width="1.4"/>
<line x1="453.0" y1="533" x2="457.0" y2="533" stroke="#111" stroke-width="1.4"/>
<line x1="491.5" y1="533" x2="495.5" y2="533" stroke="#111" stroke-width="1.4"/>
<line x1="528.3" y1="533" x2="532.3" y2="533" stroke="#111" stroke-width="1.4"/>
<line x1="563.9" y1="533" x2="571.1" y2="533" stroke="#111" stroke-width="1.4"/>
<line x1="567.5" y1="529.4" x2="567.5" y2="536.6" stroke="#111" stroke-width="1.4"/>
<line x1="603.0" y1="533" x2="607.0" y2="533" stroke="#111" stroke-width="1.4"/>
<text x="1" y="593" font-size="24" font-weight="bold" text-anchor="start" fill="#000">C</text>
<line x1="59.6" y1="597" x2="59.6" y2="789" stroke="#000" stroke-width="2"/>
<line x1="53" y1="758.5" x2="59.6" y2="758.5" stroke="#000" stroke-width="2"/>
<text x="51.3" y="763.3" font-size="13.8" text-anchor="end" fill="#222">40</text>
<line x1="53" y1="718.2" x2="59.6" y2="718.2" stroke="#000" stroke-width="2"/>
<text x="51.3" y="723.0" font-size="13.8" text-anchor="end" fill="#222">60</text>
<line x1="53" y1="677.9" x2="59.6" y2="677.9" stroke="#000" stroke-width="2"/>
<text x="51.3" y="682.6999999999999" font-size="13.8" text-anchor="end" fill="#222">80</text>
<line x1="53" y1="637.6" x2="59.6" y2="637.6" stroke="#000" stroke-width="2"/>
<text x="51.3" y="642.4" font-size="13.8" text-anchor="end" fill="#222">100</text>
<line x1="53" y1="597.3000000000001" x2="59.6" y2="597.3000000000001" stroke="#000" stroke-width="2"/>
<text x="51.3" y="602.1" font-size="13.8" text-anchor="end" fill="#222">120</text>
<line x1="58.6" y1="788" x2="255" y2="788" stroke="#000" stroke-width="2"/>
<line x1="60.5" y1="788" x2="60.5" y2="793.5" stroke="#000" stroke-width="2"/>
<text x="59.5" y="809" font-size="12.5" font-weight="bold" text-anchor="middle" fill="#000">0</text>
<line x1="114.35" y1="788" x2="114.35" y2="793.5" stroke="#000" stroke-width="2"/>
<text x="113.35" y="809" font-size="12.5" font-weight="bold" text-anchor="middle" fill="#000">5</text>
<line x1="168.2" y1="788" x2="168.2" y2="793.5" stroke="#000" stroke-width="2"/>
<text x="167.2" y="809" font-size="12.5" font-weight="bold" text-anchor="middle" fill="#000">10</text>
<line x1="222.04999999999998" y1="788" x2="222.04999999999998" y2="793.5" stroke="#000" stroke-width="2"/>
<text x="221.04999999999998" y="809" font-size="12.5" font-weight="bold" text-anchor="middle" fill="#000">15</text>
<text x="158.4" y="828.6" font-size="13.8" font-weight="bold" text-anchor="middle" fill="#000">Olaparib (μM)</text>
<polyline points="60.5,637.6 71.3,635.6 82.0,637.0 103.6,618.5 146.7,633.6 232.8,644.5" fill="none" stroke="#000" stroke-width="2"/>
<polyline points="60.5,637.6 71.3,633.6 82.0,646.1 103.6,677.9 146.7,739.0 232.8,759.7" fill="none" stroke="#000" stroke-width="2"/>
<circle cx="60.5" cy="637.6" r="3.8" fill="#000"/>
<circle cx="71.27" cy="635.585" r="3.8" fill="#000"/>
<circle cx="82.03999999999999" cy="636.9955" r="3.8" fill="#000"/>
<circle cx="103.58" cy="618.4575" r="3.8" fill="#000"/>
<circle cx="146.66" cy="633.57" r="3.8" fill="#000"/>
<circle cx="232.82" cy="644.451" r="3.8" fill="#000"/>
<rect x="56.5" y="633.6" width="8" height="8" fill="#000"/>
<rect x="67.27" y="629.57" width="8" height="8" fill="#000"/>
<rect x="78.03999999999999" y="642.063" width="8" height="8" fill="#000"/>
<rect x="99.58" y="673.9" width="8" height="8" fill="#000"/>
<rect x="142.66" y="734.9545" width="8" height="8" fill="#000"/>
<rect x="228.82" y="755.7090000000001" width="8" height="8" fill="#000"/>
<line x1="77" y1="583" x2="98" y2="583" stroke="#000" stroke-width="2"/>
<circle cx="88.5" cy="583" r="3.8" fill="#000"/>
<text x="108.6" y="587.2" font-size="14" text-anchor="start" fill="#222">Olaparib</text>
<line x1="77" y1="600" x2="98" y2="600" stroke="#000" stroke-width="2"/>
<rect x="84.5" y="596" width="8" height="8" fill="#000"/>
<text x="108.6" y="604.4" font-size="13.9" text-anchor="start" fill="#222">10 μM ATL + Olaparib</text>
<text x="188" y="693.5" font-size="23" font-weight="bold" text-anchor="middle" fill="#000">PC-3</text>
<text x="21" y="693.3" font-size="13.75" font-weight="bold" text-anchor="middle" fill="#000" transform="rotate(-90 21 693.3)">Cell viability (% of control)</text>
<text x="290" y="595" font-size="23" font-weight="bold" text-anchor="start" fill="#000">D</text>
<line x1="342.9" y1="607.6" x2="342.9" y2="788.6" stroke="#000" stroke-width="2.2"/>
<line x1="337.3" y1="787.6" x2="342.9" y2="787.6" stroke="#000" stroke-width="2"/>
<text x="333.8" y="792.2" font-size="14" font-weight="bold" text-anchor="end" fill="#111">0.0</text>
<line x1="337.3" y1="727.465" x2="342.9" y2="727.465" stroke="#000" stroke-width="2"/>
<text x="333.8" y="732.065" font-size="14" font-weight="bold" text-anchor="end" fill="#111">0.5</text>
<line x1="337.3" y1="667.33" x2="342.9" y2="667.33" stroke="#000" stroke-width="2"/>
<text x="333.8" y="671.9300000000001" font-size="14" font-weight="bold" text-anchor="end" fill="#111">1.0</text>
<line x1="337.3" y1="607.195" x2="342.9" y2="607.195" stroke="#000" stroke-width="2"/>
<text x="333.8" y="611.7950000000001" font-size="14" font-weight="bold" text-anchor="end" fill="#111">1.5</text>
<line x1="341.9" y1="787.6" x2="557.6" y2="787.6" stroke="#000" stroke-width="2.2"/>
<line x1="343.0" y1="787.6" x2="343.0" y2="792.5" stroke="#000" stroke-width="2"/>
<text x="343.0" y="808.6" font-size="14" font-weight="bold" text-anchor="middle" fill="#111">0.0</text>
<line x1="385.8" y1="787.6" x2="385.8" y2="792.5" stroke="#000" stroke-width="2"/>
<text x="385.8" y="808.6" font-size="14" font-weight="bold" text-anchor="middle" fill="#111">0.2</text>
<line x1="428.6" y1="787.6" x2="428.6" y2="792.5" stroke="#000" stroke-width="2"/>
<text x="428.6" y="808.6" font-size="14" font-weight="bold" text-anchor="middle" fill="#111">0.4</text>
<line x1="471.4" y1="787.6" x2="471.4" y2="792.5" stroke="#000" stroke-width="2"/>
<text x="471.4" y="808.6" font-size="14" font-weight="bold" text-anchor="middle" fill="#111">0.6</text>
<line x1="514.2" y1="787.6" x2="514.2" y2="792.5" stroke="#000" stroke-width="2"/>
<text x="514.2" y="808.6" font-size="14" font-weight="bold" text-anchor="middle" fill="#111">0.8</text>
<line x1="557.0" y1="787.6" x2="557.0" y2="792.5" stroke="#000" stroke-width="2"/>
<text x="557.0" y="808.6" font-size="14" font-weight="bold" text-anchor="middle" fill="#111">1.0</text>
<text x="449.5" y="830.2" font-size="14.5" font-weight="bold" text-anchor="middle" fill="#111">Fraction affected (Fa)</text>
<line x1="345" y1="668" x2="563" y2="668" stroke="#ee2222" stroke-width="2" stroke-dasharray="5.5 4.2"/>
<circle cx="383.4" cy="716" r="5.3" fill="#0a0af5"/>
<circle cx="411.3" cy="717" r="5.3" fill="#40f040"/>
<circle cx="449.9" cy="764.8" r="5.3" fill="#ff0a0a"/>
<circle cx="495.1" cy="744.3" r="5.3" fill="#a806e8"/>
<circle cx="525.3" cy="736.2" r="5.3" fill="#7d7418"/>
<circle cx="555.3" cy="746.7" r="5.3" fill="#000"/>
<circle cx="555.3" cy="767.4" r="5.3" fill="#8eaad6"/>
<text x="510.6" y="598.8" font-size="14.2" text-anchor="start" fill="#111">ATL: 10 μM</text>
<text x="510.6" y="615.9" font-size="14.2" text-anchor="start" fill="#111">Olaparib:</text>
<circle cx="582.2" cy="612.4" r="5.2" fill="#0a0af5"/>
<text x="589.8" y="617.3" font-size="13.8" text-anchor="start" fill="#111">4 μM</text>
<circle cx="582.2" cy="631.5" r="5.2" fill="#ff0a0a"/>
<text x="589.8" y="636.4" font-size="13.8" text-anchor="start" fill="#111">8 μM</text>
<circle cx="582.2" cy="650.9" r="5.2" fill="#40f040"/>
<text x="589.8" y="655.8" font-size="13.8" text-anchor="start" fill="#111">16 μM</text>
<circle cx="582.2" cy="670" r="5.2" fill="#a806e8"/>
<text x="589.8" y="674.9" font-size="13.8" text-anchor="start" fill="#111">32 μM</text>
<circle cx="582.2" cy="689.5" r="5.2" fill="#7d7418"/>
<text x="589.8" y="694.4" font-size="13.8" text-anchor="start" fill="#111">64 μM</text>
<circle cx="582.2" cy="708.6" r="5.2" fill="#8eaad6"/>
<text x="589.8" y="713.5" font-size="13.8" text-anchor="start" fill="#111">128 μM</text>
<circle cx="582.2" cy="727.3" r="5.2" fill="#000"/>
<text x="589.8" y="732.1999999999999" font-size="13.8" text-anchor="start" fill="#111">256 μM</text>
<text x="402.8" y="627" font-size="23.2" font-weight="bold" text-anchor="start" fill="#000">PC-3</text>
<text x="306.5" y="697.1" font-size="14.5" font-weight="bold" text-anchor="middle" fill="#111" transform="rotate(-90 306.5 697.1)">Combination index (CI)</text>
<text x="2" y="865" font-size="25" font-weight="bold" text-anchor="start" fill="#000">E</text>
<line x1="57" y1="875" x2="57" y2="1028.5" stroke="#000" stroke-width="2.6"/>
<line x1="51.5" y1="1027.0" x2="57" y2="1027.0" stroke="#000" stroke-width="2.2"/>
<text x="49.5" y="1031.3" font-size="12.2" font-weight="bold" text-anchor="end" fill="#111">0.0</text>
<line x1="51.5" y1="976.4" x2="57" y2="976.4" stroke="#000" stroke-width="2.2"/>
<text x="49.5" y="980.6999999999999" font-size="12.2" font-weight="bold" text-anchor="end" fill="#111">0.5</text>
<line x1="51.5" y1="925.8" x2="57" y2="925.8" stroke="#000" stroke-width="2.2"/>
<text x="49.5" y="930.0999999999999" font-size="12.2" font-weight="bold" text-anchor="end" fill="#111">1.0</text>
<line x1="51.5" y1="875.2" x2="57" y2="875.2" stroke="#000" stroke-width="2.2"/>
<text x="49.5" y="879.5" font-size="12.2" font-weight="bold" text-anchor="end" fill="#111">1.5</text>
<line x1="56" y1="1027" x2="283.5" y2="1027" stroke="#000" stroke-width="2.8"/>
<line x1="57.0" y1="1027" x2="57.0" y2="1032" stroke="#000" stroke-width="2.2"/>
<text x="57.0" y="1046.4" font-size="12.2" font-weight="bold" text-anchor="middle" fill="#111">0.0</text>
<line x1="102.24000000000001" y1="1027" x2="102.24000000000001" y2="1032" stroke="#000" stroke-width="2.2"/>
<text x="102.24000000000001" y="1046.4" font-size="12.2" font-weight="bold" text-anchor="middle" fill="#111">0.2</text>
<line x1="147.48000000000002" y1="1027" x2="147.48000000000002" y2="1032" stroke="#000" stroke-width="2.2"/>
<text x="147.48000000000002" y="1046.4" font-size="12.2" font-weight="bold" text-anchor="middle" fill="#111">0.4</text>
<line x1="192.72000000000003" y1="1027" x2="192.72000000000003" y2="1032" stroke="#000" stroke-width="2.2"/>
<text x="192.72000000000003" y="1046.4" font-size="12.2" font-weight="bold" text-anchor="middle" fill="#111">0.6</text>
<line x1="237.96" y1="1027" x2="237.96" y2="1032" stroke="#000" stroke-width="2.2"/>
<text x="237.96" y="1046.4" font-size="12.2" font-weight="bold" text-anchor="middle" fill="#111">0.8</text>
<line x1="283.2" y1="1027" x2="283.2" y2="1032" stroke="#000" stroke-width="2.2"/>
<text x="283.2" y="1046.4" font-size="12.2" font-weight="bold" text-anchor="middle" fill="#111">1.0</text>
<text x="169.5" y="1067.4" font-size="13.95" font-weight="bold" text-anchor="middle" fill="#111">Fraction affected (Fa)</text>
<line x1="58" y1="925.6" x2="285" y2="925.6" stroke="#ee2222" stroke-width="2" stroke-dasharray="5.5 4.2"/>
<text x="22.5" y="950.5" font-size="13.8" font-weight="bold" text-anchor="middle" fill="#111" transform="rotate(-90 22.5 950.5)">Combination index (CI)</text>
<text x="151.7" y="883" font-size="17.6" font-weight="bold" text-anchor="middle" fill="#111">PC-3</text>
<rect x="78" y="988.3" width="8" height="8" fill="#1c9fbc"/>
<rect x="80" y="998.5" width="8" height="8" fill="#000"/>
<rect x="133.8" y="1002.8" width="8" height="8" fill="#c8c21c"/>
<rect x="179.3" y="1000" width="8" height="8" fill="#f81a1a"/>
<circle cx="115.4" cy="1004.6" r="4.2" fill="#1c9fbc"/>
<circle cx="118" cy="1010" r="4.2" fill="#000"/>
<circle cx="176.3" cy="1011.7" r="4.2" fill="#c8c21c"/>
<circle cx="232.4" cy="1013" r="4.2" fill="#f81a1a"/>
<line x1="331.6" y1="876" x2="331.6" y2="1028" stroke="#000" stroke-width="2.6"/>
<line x1="324.7" y1="1026.6" x2="331.6" y2="1026.6" stroke="#000" stroke-width="2.2"/>
<text x="322.7" y="1030.8999999999999" font-size="12.2" font-weight="bold" text-anchor="end" fill="#111">0.0</text>
<line x1="324.7" y1="975.9999999999999" x2="331.6" y2="975.9999999999999" stroke="#000" stroke-width="2.2"/>
<text x="322.7" y="980.2999999999998" font-size="12.2" font-weight="bold" text-anchor="end" fill="#111">0.5</text>
<line x1="324.7" y1="925.3999999999999" x2="331.6" y2="925.3999999999999" stroke="#000" stroke-width="2.2"/>
<text x="322.7" y="929.6999999999998" font-size="12.2" font-weight="bold" text-anchor="end" fill="#111">1.0</text>
<line x1="324.7" y1="874.8" x2="331.6" y2="874.8" stroke="#000" stroke-width="2.2"/>
<text x="322.7" y="879.0999999999999" font-size="12.2" font-weight="bold" text-anchor="end" fill="#111">1.5</text>
<line x1="330.6" y1="1026.6" x2="561" y2="1026.6" stroke="#000" stroke-width="2.8"/>
<line x1="331.0" y1="1026.6" x2="331.0" y2="1031.6" stroke="#000" stroke-width="2.2"/>
<text x="331.0" y="1046.2" font-size="12.2" font-weight="bold" text-anchor="middle" fill="#111">0.0</text>
<line x1="376.8" y1="1026.6" x2="376.8" y2="1031.6" stroke="#000" stroke-width="2.2"/>
<text x="376.8" y="1046.2" font-size="12.2" font-weight="bold" text-anchor="middle" fill="#111">0.2</text>
<line x1="422.6" y1="1026.6" x2="422.6" y2="1031.6" stroke="#000" stroke-width="2.2"/>
<text x="422.6" y="1046.2" font-size="12.2" font-weight="bold" text-anchor="middle" fill="#111">0.4</text>
<line x1="468.40000000000003" y1="1026.6" x2="468.40000000000003" y2="1031.6" stroke="#000" stroke-width="2.2"/>
<text x="468.40000000000003" y="1046.2" font-size="12.2" font-weight="bold" text-anchor="middle" fill="#111">0.6</text>
<line x1="514.2" y1="1026.6" x2="514.2" y2="1031.6" stroke="#000" stroke-width="2.2"/>
<text x="514.2" y="1046.2" font-size="12.2" font-weight="bold" text-anchor="middle" fill="#111">0.8</text>
<line x1="560.0" y1="1026.6" x2="560.0" y2="1031.6" stroke="#000" stroke-width="2.2"/>
<text x="560.0" y="1046.2" font-size="12.2" font-weight="bold" text-anchor="middle" fill="#111">1.0</text>
<text x="445" y="1068.3" font-size="13.95" font-weight="bold" text-anchor="middle" fill="#111">Fraction affected (Fa)</text>
<line x1="332" y1="926.4" x2="563" y2="926.4" stroke="#ee2222" stroke-width="2" stroke-dasharray="5.5 4.2"/>
<text x="445.4" y="884" font-size="17.8" font-weight="bold" text-anchor="middle" fill="#111">SW480</text>
<rect x="360.4" y="983.8" width="8" height="8" fill="#8c8a1c"/>
<rect x="362.9" y="998.9" width="8" height="8" fill="#1c9fbc"/>
<rect x="358" y="1003" width="8" height="8" fill="#000"/>
<rect x="425" y="995.2" width="8" height="8" fill="#f81a1a"/>
<circle cx="392.2" cy="1011.1" r="4.2" fill="#000"/>
<circle cx="401.2" cy="1009" r="4.2" fill="#1c9fbc"/>
<circle cx="445.4" cy="1011.5" r="4.2" fill="#8c8a1c"/>
<circle cx="493.6" cy="1011.5" r="4.2" fill="#f81a1a"/>
<rect x="531.4" y="872.6" width="8.6" height="8.6" fill="none" stroke="#000" stroke-width="2.2"/>
<text x="547.2" y="880.4" font-size="13.1" text-anchor="start" fill="#111">olaparib 5 μM</text>
<circle cx="535.5" cy="896.8" r="4.2" fill="none" stroke="#000" stroke-width="2.2"/>
<text x="547.2" y="899.9" font-size="13.1" text-anchor="start" fill="#111">olaparib 10 μM</text>
<text x="531" y="921.3" font-size="13.1" text-anchor="start" fill="#111">ATL:</text>
<line x1="568.2" y1="917.6" x2="582.6" y2="917.6" stroke="#000" stroke-width="3"/>
<text x="594.2" y="922.3" font-size="13.1" text-anchor="start" fill="#111">1 μM</text>
<line x1="568.2" y1="935.2" x2="582.6" y2="935.2" stroke="#1c9fbc" stroke-width="3"/>
<text x="594.2" y="939.7" font-size="13.1" text-anchor="start" fill="#111">2 μM</text>
<line x1="568.2" y1="952.6" x2="582.6" y2="952.6" stroke="#c8c21c" stroke-width="3"/>
<text x="594.2" y="957" font-size="13.1" text-anchor="start" fill="#111">4 μM</text>
<line x1="568.2" y1="970" x2="582.6" y2="970" stroke="#f81a1a" stroke-width="3"/>
<text x="594.2" y="974.4" font-size="13.1" text-anchor="start" fill="#111">8 μM</text>
<text x="4" y="1113.5" font-size="22.5" font-weight="bold" text-anchor="start" fill="#000">F</text>
<text x="102.5" y="1123.5" font-size="18.7" text-anchor="middle" fill="#111">control</text>
<text x="241.5" y="1123.5" font-size="18.7" text-anchor="middle" fill="#111">ATL + Ola</text>
<text x="19.7" y="1182" font-size="13.6" font-weight="bold" text-anchor="middle" fill="#111" transform="rotate(-90 19.7 1182)">RAD51</text>
<text x="20" y="1286.5" font-size="13.9" font-weight="bold" text-anchor="middle" fill="#111" transform="rotate(-90 20 1286.5)">RAD51 + DNA</text>
<g clip-path="url(#cl_rc)">
<rect x="31.5" y="1131.2" width="136.2" height="101.6" fill="#1a0000"/>
<rect x="31.5" y="1131.2" width="136.2" height="101.6" fill="#4e0505"/>
<rect x="31.5" y="1131.2" width="136.2" height="101.6" fill="#000" filter="url(#grain)" opacity="0.3"/>
<g filter="url(#blur3)">
<path d="M25.4 1142.4 L51.9 1145.1 L72.4 1154.7 L86.7 1172.1 L72.4 1171.1 L51.9 1164.9 L25.4 1163.9 Z" fill="#0a0000" opacity="0.95"/>
<path d="M113.2 1125.1 L178.6 1125.1 L178.6 1161.9 L145.9 1156.7 L119.4 1145.5 Z" fill="#0a0000" opacity="0.95"/>
<path d="M111.2 1171.1 L178.6 1165.9 L178.6 1200.7 L145.9 1193.5 L123.5 1183.3 Z" fill="#0a0000" opacity="0.95"/>
<path d="M25.4 1208.9 L47.8 1217.0 L64.2 1237.5 L25.4 1237.5 Z" fill="#0a0000" opacity="0.95"/>
</g>
<ellipse cx="100.5" cy="1197.4" rx="26" ry="22.5" transform="rotate(0 100.5 1197.4)" fill="#680707" filter="url(#blur1)"/>
<g fill="#f42418" filter="url(#blurh)"><circle cx="121.1" cy="1187.8" r="1.12" opacity="0.49"/><circle cx="80.9" cy="1200.4" r="1.13" opacity="0.74"/><circle cx="85.1" cy="1209.9" r="1.00" opacity="0.40"/><circle cx="122.2" cy="1199.1" r="0.85" opacity="0.38"/><circle cx="88.1" cy="1196.6" r="0.91" opacity="0.40"/><circle cx="105.9" cy="1206.6" r="1.00" opacity="0.59"/><circle cx="103.6" cy="1212.2" r="1.26" opacity="0.60"/><circle cx="81.2" cy="1208.6" r="0.87" opacity="0.74"/><circle cx="119.2" cy="1196.2" r="1.34" opacity="0.31"/><circle cx="96.0" cy="1217.0" r="1.06" opacity="0.75"/><circle cx="95.8" cy="1198.1" r="0.79" opacity="0.73"/><circle cx="94.4" cy="1197.5" r="1.02" opacity="0.54"/><circle cx="108.6" cy="1215.5" r="1.24" opacity="0.61"/><circle cx="120.6" cy="1194.6" r="1.22" opacity="0.82"/><circle cx="115.2" cy="1205.6" r="1.09" opacity="0.68"/><circle cx="92.0" cy="1212.5" r="1.30" opacity="0.84"/><circle cx="106.0" cy="1186.2" r="0.96" opacity="0.66"/><circle cx="96.6" cy="1178.3" r="0.90" opacity="0.34"/><circle cx="107.5" cy="1188.1" r="1.17" opacity="0.70"/><circle cx="110.0" cy="1204.0" r="0.99" opacity="0.83"/><circle cx="82.8" cy="1199.7" r="0.86" opacity="0.41"/><circle cx="98.0" cy="1179.2" r="1.08" opacity="0.58"/><circle cx="119.4" cy="1195.0" r="1.08" opacity="0.73"/><circle cx="95.4" cy="1208.3" r="1.14" opacity="0.59"/><circle cx="76.9" cy="1199.0" r="0.77" opacity="0.53"/><circle cx="109.1" cy="1205.0" r="1.14" opacity="0.46"/><circle cx="101.2" cy="1203.6" r="1.05" opacity="0.47"/><circle cx="110.1" cy="1179.3" r="1.30" opacity="0.33"/><circle cx="111.6" cy="1213.1" r="0.84" opacity="0.77"/><circle cx="110.4" cy="1198.3" r="1.25" opacity="0.81"/><circle cx="101.1" cy="1216.0" r="0.85" opacity="0.74"/><circle cx="96.7" cy="1213.6" r="0.91" opacity="0.39"/><circle cx="91.8" cy="1195.7" r="0.78" opacity="0.52"/><circle cx="94.9" cy="1186.8" r="1.28" opacity="0.39"/><circle cx="95.1" cy="1203.3" r="0.99" opacity="0.54"/><circle cx="95.5" cy="1206.6" r="0.82" opacity="0.45"/><circle cx="92.6" cy="1187.3" r="1.21" opacity="0.71"/><circle cx="97.0" cy="1194.0" r="1.01" opacity="0.57"/><circle cx="89.8" cy="1203.5" r="0.84" opacity="0.70"/><circle cx="107.5" cy="1182.8" r="1.31" opacity="0.49"/><circle cx="119.0" cy="1206.5" r="1.11" opacity="0.40"/><circle cx="87.3" cy="1191.8" r="0.96" opacity="0.79"/><circle cx="91.7" cy="1188.6" r="0.92" opacity="0.38"/><circle cx="111.9" cy="1199.1" r="1.28" opacity="0.48"/><circle cx="103.7" cy="1201.8" r="0.92" opacity="0.30"/><circle cx="101.4" cy="1201.8" r="1.21" opacity="0.44"/><circle cx="119.7" cy="1205.9" r="1.28" opacity="0.34"/><circle cx="117.1" cy="1210.5" r="0.85" opacity="0.31"/><circle cx="115.4" cy="1186.9" r="1.04" opacity="0.40"/><circle cx="91.2" cy="1210.7" r="0.82" opacity="0.34"/><circle cx="96.1" cy="1185.0" r="1.12" opacity="0.39"/><circle cx="97.0" cy="1215.1" r="0.80" opacity="0.51"/><circle cx="95.1" cy="1186.1" r="1.16" opacity="0.75"/><circle cx="93.9" cy="1205.2" r="1.31" opacity="0.70"/><circle cx="101.1" cy="1188.3" r="1.28" opacity="0.74"/><circle cx="87.9" cy="1204.6" r="1.12" opacity="0.69"/><circle cx="91.9" cy="1178.1" r="1.20" opacity="0.83"/><circle cx="110.9" cy="1200.9" r="1.08" opacity="0.58"/><circle cx="118.8" cy="1187.3" r="1.31" opacity="0.70"/><circle cx="92.5" cy="1211.9" r="1.31" opacity="0.82"/><circle cx="104.5" cy="1183.4" r="0.87" opacity="0.48"/><circle cx="91.0" cy="1197.1" r="0.98" opacity="0.42"/><circle cx="100.2" cy="1179.8" r="0.90" opacity="0.31"/><circle cx="86.8" cy="1209.4" r="0.86" opacity="0.64"/><circle cx="91.8" cy="1213.5" r="1.12" opacity="0.83"/><circle cx="113.6" cy="1196.1" r="0.82" opacity="0.34"/><circle cx="77.4" cy="1198.1" r="0.98" opacity="0.48"/><circle cx="102.3" cy="1199.5" r="1.16" opacity="0.75"/><circle cx="118.5" cy="1201.8" r="0.88" opacity="0.55"/><circle cx="100.5" cy="1210.3" r="1.29" opacity="0.53"/><circle cx="96.2" cy="1204.6" r="0.75" opacity="0.66"/><circle cx="102.4" cy="1215.4" r="0.97" opacity="0.30"/><circle cx="90.7" cy="1199.6" r="0.81" opacity="0.70"/><circle cx="89.9" cy="1193.6" r="1.08" opacity="0.39"/><circle cx="91.0" cy="1213.5" r="1.33" opacity="0.67"/><circle cx="95.5" cy="1182.5" r="0.97" opacity="0.53"/><circle cx="113.2" cy="1199.8" r="0.92" opacity="0.53"/><circle cx="111.3" cy="1192.7" r="1.35" opacity="0.43"/><circle cx="115.6" cy="1201.1" r="1.35" opacity="0.84"/><circle cx="108.8" cy="1181.5" r="1.20" opacity="0.67"/><circle cx="113.0" cy="1207.7" r="1.04" opacity="0.58"/><circle cx="93.6" cy="1185.6" r="1.04" opacity="0.49"/><circle cx="91.6" cy="1212.7" r="1.07" opacity="0.61"/><circle cx="119.5" cy="1189.8" r="0.92" opacity="0.61"/><circle cx="100.5" cy="1201.6" r="1.04" opacity="0.49"/><circle cx="109.9" cy="1209.2" r="1.08" opacity="0.33"/><circle cx="87.9" cy="1197.4" r="1.30" opacity="0.47"/><circle cx="103.4" cy="1182.4" r="1.24" opacity="0.73"/><circle cx="94.5" cy="1215.6" r="0.95" opacity="0.41"/><circle cx="109.1" cy="1182.0" r="1.20" opacity="0.66"/><circle cx="102.6" cy="1178.9" r="1.24" opacity="0.69"/><circle cx="104.1" cy="1187.3" r="1.07" opacity="0.50"/><circle cx="90.5" cy="1208.5" r="1.28" opacity="0.71"/><circle cx="84.2" cy="1192.4" r="1.24" opacity="0.67"/><circle cx="94.1" cy="1198.8" r="1.28" opacity="0.78"/><circle cx="113.1" cy="1187.1" r="1.24" opacity="0.63"/><circle cx="118.5" cy="1204.0" r="1.06" opacity="0.68"/><circle cx="123.1" cy="1195.4" r="1.31" opacity="0.54"/><circle cx="99.0" cy="1216.7" r="0.75" opacity="0.47"/><circle cx="101.7" cy="1184.8" r="1.02" opacity="0.71"/><circle cx="101.3" cy="1199.5" r="0.94" opacity="0.50"/><circle cx="95.1" cy="1186.4" r="1.01" opacity="0.78"/><circle cx="109.7" cy="1213.4" r="1.12" opacity="0.34"/><circle cx="91.3" cy="1196.8" r="1.21" opacity="0.56"/><circle cx="94.5" cy="1201.3" r="1.35" opacity="0.81"/><circle cx="112.0" cy="1182.4" r="0.80" opacity="0.67"/><circle cx="82.6" cy="1188.4" r="1.20" opacity="0.38"/><circle cx="96.2" cy="1215.0" r="1.27" opacity="0.66"/><circle cx="106.1" cy="1212.5" r="1.21" opacity="0.81"/><circle cx="99.4" cy="1185.0" r="1.23" opacity="0.51"/><circle cx="99.7" cy="1203.3" r="1.15" opacity="0.64"/><circle cx="104.3" cy="1196.2" r="1.29" opacity="0.35"/><circle cx="113.0" cy="1191.0" r="0.79" opacity="0.65"/><circle cx="89.4" cy="1185.1" r="1.26" opacity="0.54"/><circle cx="112.6" cy="1190.3" r="1.10" opacity="0.74"/><circle cx="87.4" cy="1214.6" r="1.21" opacity="0.69"/><circle cx="86.3" cy="1185.7" r="1.30" opacity="0.62"/><circle cx="102.0" cy="1197.3" r="1.25" opacity="0.42"/><circle cx="87.8" cy="1180.1" r="1.10" opacity="0.45"/><circle cx="121.2" cy="1197.5" r="1.14" opacity="0.44"/><circle cx="106.9" cy="1194.3" r="0.76" opacity="0.60"/><circle cx="96.7" cy="1198.1" r="0.98" opacity="0.36"/><circle cx="121.7" cy="1201.1" r="0.99" opacity="0.58"/><circle cx="115.5" cy="1182.2" r="1.15" opacity="0.57"/><circle cx="91.1" cy="1179.3" r="1.04" opacity="0.61"/><circle cx="99.6" cy="1211.1" r="1.18" opacity="0.50"/><circle cx="109.3" cy="1216.5" r="1.04" opacity="0.57"/><circle cx="86.2" cy="1204.4" r="1.16" opacity="0.36"/><circle cx="105.2" cy="1217.3" r="0.97" opacity="0.76"/><circle cx="107.5" cy="1183.5" r="0.96" opacity="0.84"/><circle cx="121.6" cy="1195.4" r="0.83" opacity="0.33"/><circle cx="90.8" cy="1193.2" r="0.87" opacity="0.80"/><circle cx="89.5" cy="1204.8" r="1.06" opacity="0.77"/><circle cx="119.5" cy="1207.6" r="1.16" opacity="0.50"/><circle cx="92.8" cy="1189.9" r="1.28" opacity="0.69"/><circle cx="98.0" cy="1177.6" r="0.90" opacity="0.32"/><circle cx="89.9" cy="1190.4" r="1.31" opacity="0.43"/><circle cx="100.8" cy="1185.3" r="1.23" opacity="0.54"/><circle cx="101.6" cy="1182.3" r="1.27" opacity="0.55"/><circle cx="97.0" cy="1198.4" r="0.80" opacity="0.48"/></g>
<circle cx="84.2" cy="1144.3" r="1.4" fill="#d81616" filter="url(#blurh)"/>
<circle cx="97.5" cy="1154.5" r="1.4" fill="#d81616" filter="url(#blurh)"/>
<circle cx="108.5" cy="1157.6000000000001" r="1.4" fill="#d81616" filter="url(#blurh)"/>
<circle cx="144.5" cy="1174.2" r="1.4" fill="#d81616" filter="url(#blurh)"/>
</g>
<g clip-path="url(#cl_ra)">
<rect x="172.6" y="1131.2" width="136.2" height="101.6" fill="#1a0000"/>
<rect x="172.6" y="1131.2" width="136.2" height="101.6" fill="#4e0505"/>
<rect x="172.6" y="1131.2" width="136.2" height="101.6" fill="#000" filter="url(#grain)" opacity="0.3"/>
<g filter="url(#blur3)">
<path d="M166.6 1150.2 L188.6 1152.2 L202.6 1163.2 L206.6 1181.2 L196.6 1197.2 L184.6 1207.2 L166.6 1211.2 Z" fill="#0a0000" opacity="0.95"/>
<path d="M238.6 1125.2 L316.6 1125.2 L316.6 1159.2 L284.6 1169.2 L262.6 1182.2 L248.6 1179.2 L236.6 1167.2 L237.6 1147.2 Z" fill="#0a0000" opacity="0.95"/>
<path d="M166.6 1217.2 L180.6 1221.2 L186.6 1237.2 L166.6 1237.2 Z" fill="#0a0000" opacity="0.95"/>
<path d="M194.6 1125.2 L212.6 1125.2 L209.6 1139.2 L200.6 1143.2 Z" fill="#0a0000" opacity="0.95"/>
</g>
<ellipse cx="232.6" cy="1147.2" rx="12.5" ry="12.5" transform="rotate(0 232.6 1147.2)" fill="#680707" filter="url(#blur1)"/>
<g fill="#f42418" filter="url(#blurh)"><circle cx="223.3" cy="1146.7" r="1.04" opacity="0.30"/><circle cx="237.0" cy="1156.7" r="0.82" opacity="0.64"/><circle cx="238.9" cy="1155.1" r="1.34" opacity="0.76"/><circle cx="241.3" cy="1154.5" r="0.78" opacity="0.46"/><circle cx="228.7" cy="1158.0" r="1.02" opacity="0.40"/><circle cx="224.7" cy="1149.9" r="1.30" opacity="0.84"/><circle cx="226.9" cy="1154.5" r="1.20" opacity="0.48"/><circle cx="234.4" cy="1143.0" r="0.77" opacity="0.58"/><circle cx="233.3" cy="1141.7" r="0.99" opacity="0.54"/><circle cx="228.2" cy="1153.1" r="1.13" opacity="0.64"/><circle cx="225.5" cy="1149.6" r="1.23" opacity="0.85"/><circle cx="224.3" cy="1140.3" r="1.25" opacity="0.79"/><circle cx="225.7" cy="1148.9" r="1.15" opacity="0.72"/><circle cx="236.4" cy="1137.4" r="0.95" opacity="0.49"/><circle cx="234.0" cy="1140.3" r="1.08" opacity="0.60"/><circle cx="233.0" cy="1144.6" r="0.82" opacity="0.31"/><circle cx="232.2" cy="1143.2" r="0.89" opacity="0.38"/><circle cx="227.2" cy="1144.0" r="1.00" opacity="0.81"/><circle cx="238.7" cy="1143.5" r="1.20" opacity="0.56"/><circle cx="223.3" cy="1146.5" r="1.08" opacity="0.82"/><circle cx="226.8" cy="1138.8" r="0.97" opacity="0.79"/><circle cx="228.9" cy="1148.9" r="1.10" opacity="0.52"/><circle cx="223.3" cy="1146.0" r="0.80" opacity="0.50"/><circle cx="235.8" cy="1157.4" r="1.14" opacity="0.62"/><circle cx="235.7" cy="1138.8" r="1.22" opacity="0.52"/><circle cx="229.6" cy="1151.9" r="1.16" opacity="0.77"/><circle cx="229.2" cy="1142.1" r="1.13" opacity="0.75"/><circle cx="239.5" cy="1152.4" r="0.91" opacity="0.59"/></g>
<ellipse cx="215.6" cy="1200.2" rx="13" ry="14" transform="rotate(0 215.6 1200.2)" fill="#680707" filter="url(#blur1)"/>
<g fill="#f42418" filter="url(#blurh)"><circle cx="216.8" cy="1193.1" r="1.25" opacity="0.48"/><circle cx="215.1" cy="1189.1" r="1.16" opacity="0.43"/><circle cx="217.4" cy="1204.8" r="1.33" opacity="0.82"/><circle cx="210.2" cy="1198.6" r="1.22" opacity="0.65"/><circle cx="207.9" cy="1194.9" r="1.34" opacity="0.37"/><circle cx="214.9" cy="1189.5" r="1.02" opacity="0.54"/><circle cx="210.7" cy="1198.0" r="0.92" opacity="0.62"/><circle cx="212.6" cy="1195.4" r="0.77" opacity="0.50"/><circle cx="212.5" cy="1210.1" r="0.95" opacity="0.80"/><circle cx="224.8" cy="1207.1" r="1.16" opacity="0.65"/><circle cx="209.6" cy="1190.9" r="0.84" opacity="0.83"/><circle cx="222.4" cy="1202.0" r="1.20" opacity="0.32"/><circle cx="210.3" cy="1201.2" r="0.95" opacity="0.56"/><circle cx="205.1" cy="1197.2" r="0.76" opacity="0.49"/><circle cx="210.6" cy="1206.8" r="0.88" opacity="0.35"/><circle cx="222.8" cy="1202.5" r="0.91" opacity="0.55"/><circle cx="215.5" cy="1198.9" r="0.97" opacity="0.36"/><circle cx="213.8" cy="1199.5" r="0.87" opacity="0.36"/><circle cx="221.8" cy="1204.2" r="0.78" opacity="0.39"/><circle cx="207.7" cy="1203.3" r="0.89" opacity="0.49"/><circle cx="215.5" cy="1196.1" r="0.78" opacity="0.57"/><circle cx="225.7" cy="1206.7" r="1.06" opacity="0.77"/><circle cx="221.2" cy="1211.5" r="0.86" opacity="0.53"/><circle cx="216.8" cy="1208.5" r="1.28" opacity="0.38"/><circle cx="215.8" cy="1205.0" r="1.26" opacity="0.53"/><circle cx="225.0" cy="1198.5" r="1.10" opacity="0.46"/><circle cx="221.0" cy="1203.1" r="0.96" opacity="0.49"/><circle cx="221.5" cy="1195.7" r="1.16" opacity="0.60"/><circle cx="219.7" cy="1210.6" r="0.98" opacity="0.70"/><circle cx="208.5" cy="1193.0" r="1.09" opacity="0.52"/><circle cx="215.9" cy="1189.6" r="1.28" opacity="0.72"/><circle cx="220.0" cy="1195.0" r="0.83" opacity="0.65"/></g>
<ellipse cx="266.6" cy="1217.2" rx="17" ry="12" transform="rotate(0 266.6 1217.2)" fill="#680707" filter="url(#blur1)"/>
<g fill="#f42418" filter="url(#blurh)"><circle cx="256.6" cy="1217.0" r="0.86" opacity="0.84"/><circle cx="260.7" cy="1218.0" r="1.18" opacity="0.70"/><circle cx="276.3" cy="1219.8" r="1.22" opacity="0.49"/><circle cx="263.6" cy="1210.5" r="0.83" opacity="0.70"/><circle cx="256.4" cy="1210.9" r="1.16" opacity="0.55"/><circle cx="269.9" cy="1216.9" r="1.21" opacity="0.44"/><circle cx="274.9" cy="1222.2" r="1.27" opacity="0.52"/><circle cx="267.4" cy="1223.3" r="1.32" opacity="0.45"/><circle cx="273.4" cy="1211.7" r="0.88" opacity="0.55"/><circle cx="258.0" cy="1208.5" r="1.28" opacity="0.83"/><circle cx="272.4" cy="1219.4" r="1.30" opacity="0.40"/><circle cx="252.5" cy="1214.9" r="1.29" opacity="0.65"/><circle cx="271.1" cy="1226.8" r="1.13" opacity="0.55"/><circle cx="271.9" cy="1221.6" r="1.25" opacity="0.46"/><circle cx="281.0" cy="1219.2" r="1.00" opacity="0.81"/><circle cx="254.4" cy="1219.1" r="1.30" opacity="0.84"/><circle cx="277.0" cy="1221.8" r="1.08" opacity="0.63"/><circle cx="271.3" cy="1223.4" r="0.83" opacity="0.43"/><circle cx="273.3" cy="1220.0" r="0.75" opacity="0.30"/><circle cx="258.8" cy="1214.9" r="1.05" opacity="0.53"/><circle cx="271.5" cy="1225.2" r="1.04" opacity="0.66"/><circle cx="251.9" cy="1215.3" r="1.29" opacity="0.74"/><circle cx="271.6" cy="1218.2" r="1.33" opacity="0.37"/><circle cx="269.2" cy="1214.6" r="1.27" opacity="0.79"/><circle cx="265.0" cy="1219.8" r="1.31" opacity="0.69"/><circle cx="260.1" cy="1220.2" r="0.98" opacity="0.79"/><circle cx="279.9" cy="1215.1" r="0.94" opacity="0.84"/><circle cx="275.5" cy="1221.3" r="1.13" opacity="0.71"/><circle cx="268.2" cy="1215.8" r="0.95" opacity="0.81"/><circle cx="260.1" cy="1223.7" r="0.89" opacity="0.54"/><circle cx="260.7" cy="1213.3" r="0.77" opacity="0.46"/><circle cx="275.0" cy="1223.3" r="0.92" opacity="0.63"/><circle cx="258.7" cy="1208.7" r="0.97" opacity="0.66"/><circle cx="269.5" cy="1216.5" r="1.28" opacity="0.61"/><circle cx="272.5" cy="1210.0" r="1.22" opacity="0.39"/><circle cx="272.8" cy="1211.1" r="0.92" opacity="0.54"/></g>
</g>
<g clip-path="url(#cl_bc)">
<rect x="31.5" y="1236.5" width="136.2" height="100.5" fill="#0c0224"/>
<rect x="31.5" y="1236.5" width="136.2" height="100.5" fill="#420f52"/>
<rect x="31.5" y="1236.5" width="136.2" height="100.5" fill="#000" filter="url(#grain)" opacity="0.3"/>
<g filter="url(#blur3)">
<path d="M25.4 1247.7 L51.9 1250.4 L72.4 1260.0 L86.7 1277.4 L72.4 1276.4 L51.9 1270.2 L25.4 1269.2 Z" fill="#08021a" opacity="0.95"/>
<path d="M113.2 1230.4 L178.6 1230.4 L178.6 1267.2 L145.9 1262.0 L119.4 1250.8 Z" fill="#08021a" opacity="0.95"/>
<path d="M111.2 1276.4 L178.6 1271.2 L178.6 1306.0 L145.9 1298.8 L123.5 1288.6 Z" fill="#08021a" opacity="0.95"/>
<path d="M25.4 1314.2 L47.8 1322.3 L64.2 1342.8 L25.4 1342.8 Z" fill="#08021a" opacity="0.95"/>
</g>
<ellipse cx="93.4" cy="1262.6" rx="21.5" ry="13.3" transform="rotate(10 93.4 1262.6)" fill="#3232ec" filter="url(#blur1)"/>
<g fill="#d844c4" filter="url(#blurh)"><circle cx="91.1" cy="1255.8" r="1.22" opacity="0.76"/><circle cx="85.8" cy="1250.6" r="1.03" opacity="0.34"/><circle cx="97.3" cy="1253.7" r="1.13" opacity="0.81"/><circle cx="94.0" cy="1272.4" r="1.31" opacity="0.73"/><circle cx="76.0" cy="1257.3" r="1.16" opacity="0.56"/><circle cx="99.2" cy="1261.6" r="1.13" opacity="0.34"/><circle cx="87.0" cy="1261.6" r="0.82" opacity="0.84"/><circle cx="98.1" cy="1255.3" r="1.02" opacity="0.71"/><circle cx="105.1" cy="1262.8" r="1.35" opacity="0.52"/><circle cx="109.7" cy="1270.5" r="1.07" opacity="0.51"/><circle cx="90.5" cy="1268.2" r="1.23" opacity="0.32"/><circle cx="86.0" cy="1267.4" r="0.77" opacity="0.51"/><circle cx="109.6" cy="1264.0" r="1.18" opacity="0.59"/><circle cx="98.1" cy="1253.2" r="0.94" opacity="0.77"/><circle cx="96.8" cy="1252.9" r="1.04" opacity="0.76"/><circle cx="98.5" cy="1259.4" r="1.03" opacity="0.30"/><circle cx="89.9" cy="1254.8" r="0.98" opacity="0.73"/><circle cx="92.0" cy="1270.2" r="1.28" opacity="0.33"/><circle cx="98.2" cy="1274.7" r="0.98" opacity="0.78"/><circle cx="99.4" cy="1266.3" r="0.96" opacity="0.78"/></g>
<ellipse cx="101.5" cy="1303.5" rx="29.6" ry="23.5" transform="rotate(0 101.5 1303.5)" fill="#3232ec" filter="url(#blur1)"/>
<g fill="#d844c4" filter="url(#blurh)"><circle cx="92.7" cy="1315.1" r="1.17" opacity="0.62"/><circle cx="79.5" cy="1301.4" r="0.87" opacity="0.63"/><circle cx="99.4" cy="1292.7" r="1.14" opacity="0.47"/><circle cx="98.2" cy="1301.9" r="1.08" opacity="0.47"/><circle cx="101.3" cy="1292.9" r="1.08" opacity="0.84"/><circle cx="76.2" cy="1303.2" r="1.12" opacity="0.44"/><circle cx="96.5" cy="1300.8" r="0.84" opacity="0.53"/><circle cx="75.8" cy="1307.2" r="0.81" opacity="0.38"/><circle cx="93.2" cy="1316.1" r="1.11" opacity="0.80"/><circle cx="116.7" cy="1309.7" r="1.32" opacity="0.76"/><circle cx="93.0" cy="1295.6" r="0.79" opacity="0.32"/><circle cx="123.3" cy="1302.7" r="0.91" opacity="0.61"/><circle cx="120.3" cy="1291.5" r="1.10" opacity="0.84"/><circle cx="84.6" cy="1303.5" r="0.76" opacity="0.52"/><circle cx="106.5" cy="1308.6" r="0.87" opacity="0.70"/><circle cx="108.6" cy="1308.7" r="0.95" opacity="0.79"/><circle cx="81.6" cy="1292.5" r="0.88" opacity="0.71"/><circle cx="94.5" cy="1304.2" r="1.01" opacity="0.43"/><circle cx="124.7" cy="1298.0" r="1.16" opacity="0.35"/><circle cx="102.5" cy="1302.7" r="0.93" opacity="0.78"/><circle cx="82.0" cy="1298.8" r="1.21" opacity="0.53"/><circle cx="83.2" cy="1295.7" r="1.09" opacity="0.47"/><circle cx="93.0" cy="1322.2" r="0.94" opacity="0.57"/><circle cx="88.9" cy="1306.7" r="1.18" opacity="0.46"/><circle cx="107.0" cy="1299.9" r="0.88" opacity="0.46"/><circle cx="103.6" cy="1295.7" r="0.93" opacity="0.31"/><circle cx="100.8" cy="1302.7" r="0.91" opacity="0.59"/><circle cx="106.9" cy="1285.8" r="0.89" opacity="0.40"/><circle cx="81.9" cy="1289.5" r="0.91" opacity="0.43"/><circle cx="94.0" cy="1287.9" r="1.20" opacity="0.52"/><circle cx="89.6" cy="1284.3" r="1.35" opacity="0.54"/><circle cx="101.8" cy="1309.5" r="1.27" opacity="0.58"/><circle cx="82.9" cy="1308.6" r="0.88" opacity="0.80"/><circle cx="118.2" cy="1312.6" r="1.11" opacity="0.37"/><circle cx="83.7" cy="1308.7" r="1.24" opacity="0.30"/><circle cx="128.0" cy="1306.1" r="0.99" opacity="0.60"/><circle cx="110.1" cy="1324.0" r="1.20" opacity="0.33"/><circle cx="101.4" cy="1285.5" r="1.25" opacity="0.52"/><circle cx="93.3" cy="1323.2" r="0.83" opacity="0.74"/><circle cx="76.5" cy="1298.8" r="0.85" opacity="0.62"/><circle cx="118.1" cy="1315.7" r="1.23" opacity="0.35"/><circle cx="79.8" cy="1291.4" r="0.76" opacity="0.79"/><circle cx="93.1" cy="1299.0" r="1.29" opacity="0.42"/><circle cx="108.1" cy="1289.5" r="1.08" opacity="0.70"/><circle cx="108.5" cy="1322.3" r="1.09" opacity="0.56"/><circle cx="117.2" cy="1310.8" r="1.26" opacity="0.41"/><circle cx="94.3" cy="1302.2" r="1.05" opacity="0.71"/><circle cx="103.7" cy="1297.5" r="0.81" opacity="0.62"/></g>
</g>
<g clip-path="url(#cl_ba)">
<rect x="172.6" y="1236.5" width="136.2" height="100.5" fill="#0c0224"/>
<rect x="172.6" y="1236.5" width="136.2" height="100.5" fill="#420f52"/>
<rect x="172.6" y="1236.5" width="136.2" height="100.5" fill="#000" filter="url(#grain)" opacity="0.3"/>
<g filter="url(#blur3)">
<path d="M166.6 1255.5 L188.6 1257.5 L202.6 1268.5 L206.6 1286.5 L196.6 1302.5 L184.6 1312.5 L166.6 1316.5 Z" fill="#08021a" opacity="0.95"/>
<path d="M238.6 1230.5 L316.6 1230.5 L316.6 1264.5 L284.6 1274.5 L262.6 1287.5 L248.6 1284.5 L236.6 1272.5 L237.6 1252.5 Z" fill="#08021a" opacity="0.95"/>
<path d="M166.6 1322.5 L180.6 1326.5 L186.6 1342.5 L166.6 1342.5 Z" fill="#08021a" opacity="0.95"/>
<path d="M194.6 1230.5 L212.6 1230.5 L209.6 1244.5 L200.6 1248.5 Z" fill="#08021a" opacity="0.95"/>
</g>
<ellipse cx="231.3" cy="1253.4" rx="12.8" ry="14.3" transform="rotate(15 231.3 1253.4)" fill="#3232ec" filter="url(#blur1)"/>
<g fill="#d844c4" filter="url(#blurh)"><circle cx="231.8" cy="1259.7" r="1.24" opacity="0.32"/><circle cx="231.3" cy="1262.8" r="1.24" opacity="0.71"/><circle cx="237.2" cy="1250.8" r="1.00" opacity="0.50"/><circle cx="239.8" cy="1252.8" r="1.18" opacity="0.34"/><circle cx="239.6" cy="1257.6" r="0.89" opacity="0.70"/><circle cx="223.4" cy="1249.2" r="0.80" opacity="0.67"/><circle cx="242.6" cy="1252.3" r="1.22" opacity="0.49"/><circle cx="228.6" cy="1248.2" r="1.17" opacity="0.31"/><circle cx="232.8" cy="1252.8" r="1.11" opacity="0.42"/><circle cx="225.8" cy="1257.1" r="0.78" opacity="0.38"/><circle cx="233.1" cy="1256.2" r="1.05" opacity="0.83"/><circle cx="231.8" cy="1263.6" r="0.94" opacity="0.46"/></g>
<ellipse cx="215.39999999999998" cy="1306.6" rx="13.8" ry="18.9" transform="rotate(-5 215.39999999999998 1306.6)" fill="#3232ec" filter="url(#blur1)"/>
<g fill="#d844c4" filter="url(#blurh)"><circle cx="211.7" cy="1317.9" r="1.13" opacity="0.46"/><circle cx="225.3" cy="1309.6" r="1.16" opacity="0.82"/><circle cx="222.7" cy="1311.2" r="0.91" opacity="0.32"/><circle cx="207.5" cy="1296.0" r="1.22" opacity="0.82"/><circle cx="222.7" cy="1316.4" r="1.34" opacity="0.48"/><circle cx="222.2" cy="1304.9" r="0.76" opacity="0.74"/><circle cx="210.5" cy="1293.5" r="1.11" opacity="0.61"/><circle cx="206.7" cy="1309.3" r="0.89" opacity="0.68"/><circle cx="220.5" cy="1294.4" r="1.27" opacity="0.33"/><circle cx="223.7" cy="1319.4" r="1.23" opacity="0.33"/><circle cx="207.3" cy="1305.0" r="0.81" opacity="0.64"/><circle cx="210.2" cy="1291.8" r="0.77" opacity="0.34"/><circle cx="216.9" cy="1323.1" r="0.83" opacity="0.52"/><circle cx="212.8" cy="1306.3" r="1.26" opacity="0.33"/><circle cx="213.4" cy="1301.4" r="1.07" opacity="0.61"/><circle cx="212.5" cy="1309.7" r="0.96" opacity="0.75"/><circle cx="220.6" cy="1320.4" r="1.10" opacity="0.83"/><circle cx="220.6" cy="1300.6" r="1.19" opacity="0.60"/></g>
<ellipse cx="266.5" cy="1321.9" rx="16.9" ry="13.8" transform="rotate(0 266.5 1321.9)" fill="#3232ec" filter="url(#blur1)"/>
<g fill="#d844c4" filter="url(#blurh)"><circle cx="257.2" cy="1316.6" r="0.90" opacity="0.69"/><circle cx="252.0" cy="1319.5" r="1.21" opacity="0.52"/><circle cx="276.8" cy="1313.9" r="0.81" opacity="0.52"/><circle cx="270.7" cy="1316.6" r="0.91" opacity="0.82"/><circle cx="272.0" cy="1312.3" r="1.23" opacity="0.74"/><circle cx="278.2" cy="1325.3" r="0.76" opacity="0.64"/><circle cx="268.9" cy="1314.0" r="1.26" opacity="0.52"/><circle cx="271.0" cy="1326.5" r="1.27" opacity="0.55"/><circle cx="253.5" cy="1321.1" r="1.00" opacity="0.73"/><circle cx="259.7" cy="1323.4" r="1.29" opacity="0.32"/><circle cx="259.0" cy="1328.9" r="0.83" opacity="0.38"/><circle cx="281.0" cy="1321.9" r="1.15" opacity="0.65"/><circle cx="268.3" cy="1313.2" r="0.97" opacity="0.50"/><circle cx="270.5" cy="1318.1" r="0.83" opacity="0.40"/><circle cx="272.3" cy="1330.0" r="1.06" opacity="0.36"/><circle cx="253.6" cy="1315.1" r="0.95" opacity="0.81"/></g>
</g>
<rect x="269" y="1332" width="36.5" height="3.4" fill="#fff"/>
<line x1="418.7" y1="1103.6" x2="418.7" y2="1282.7" stroke="#000" stroke-width="2"/>
<line x1="413.9" y1="1281.7" x2="418.7" y2="1281.7" stroke="#000" stroke-width="2"/>
<text x="411.8" y="1285.7" font-size="11.2" font-weight="bold" text-anchor="end" fill="#111">0</text>
<line x1="413.9" y1="1237.18" x2="418.7" y2="1237.18" stroke="#000" stroke-width="2"/>
<text x="411.8" y="1241.18" font-size="11.2" font-weight="bold" text-anchor="end" fill="#111">20</text>
<line x1="413.9" y1="1192.66" x2="418.7" y2="1192.66" stroke="#000" stroke-width="2"/>
<text x="411.8" y="1196.66" font-size="11.2" font-weight="bold" text-anchor="end" fill="#111">40</text>
<line x1="413.9" y1="1148.14" x2="418.7" y2="1148.14" stroke="#000" stroke-width="2"/>
<text x="411.8" y="1152.14" font-size="11.2" font-weight="bold" text-anchor="end" fill="#111">60</text>
<line x1="413.9" y1="1103.6200000000001" x2="418.7" y2="1103.6200000000001" stroke="#000" stroke-width="2"/>
<text x="411.8" y="1107.6200000000001" font-size="11.2" font-weight="bold" text-anchor="end" fill="#111">80</text>
<line x1="417.7" y1="1281.7" x2="684" y2="1281.7" stroke="#000" stroke-width="2.2"/>
<line x1="437.4" y1="1281.7" x2="437.4" y2="1285.8" stroke="#000" stroke-width="2"/>
<line x1="466" y1="1281.7" x2="466" y2="1285.8" stroke="#000" stroke-width="2"/>
<line x1="494.3" y1="1281.7" x2="494.3" y2="1285.8" stroke="#000" stroke-width="2"/>
<line x1="522.4" y1="1281.7" x2="522.4" y2="1285.8" stroke="#000" stroke-width="2"/>
<line x1="550.7" y1="1281.7" x2="550.7" y2="1285.8" stroke="#000" stroke-width="2"/>
<line x1="579" y1="1281.7" x2="579" y2="1285.8" stroke="#000" stroke-width="2"/>
<line x1="607.6" y1="1281.7" x2="607.6" y2="1285.8" stroke="#000" stroke-width="2"/>
<line x1="636" y1="1281.7" x2="636" y2="1285.8" stroke="#000" stroke-width="2"/>
<line x1="664.6" y1="1281.7" x2="664.6" y2="1285.8" stroke="#000" stroke-width="2"/>
<line x1="508.4" y1="1103" x2="508.4" y2="1281" stroke="#8a8a8a" stroke-width="1.1" stroke-dasharray="3.2 3"/>
<line x1="594.5" y1="1103" x2="594.5" y2="1281" stroke="#8a8a8a" stroke-width="1.1" stroke-dasharray="3.2 3"/>
<circle cx="434" cy="1204.5" r="3.65" fill="none" stroke="#111" stroke-width="1.6"/>
<circle cx="437.3" cy="1213.3" r="3.65" fill="none" stroke="#111" stroke-width="1.6"/>
<circle cx="442.1" cy="1209.3" r="3.65" fill="none" stroke="#111" stroke-width="1.6"/>
<line x1="428.2" y1="1208.9" x2="446.59999999999997" y2="1208.9" stroke="#ff1a1a" stroke-width="3.4"/>
<circle cx="462" cy="1199.5" r="3.65" fill="none" stroke="#111" stroke-width="1.6"/>
<circle cx="466.2" cy="1210.4" r="3.65" fill="none" stroke="#111" stroke-width="1.6"/>
<circle cx="470.8" cy="1205" r="3.65" fill="none" stroke="#111" stroke-width="1.6"/>
<line x1="456.8" y1="1205" x2="475.2" y2="1205" stroke="#ff1a1a" stroke-width="3.4"/>
<circle cx="495.1" cy="1198.3" r="3.65" fill="none" stroke="#111" stroke-width="1.6"/>
<circle cx="499.8" cy="1203" r="3.65" fill="none" stroke="#111" stroke-width="1.6"/>
<circle cx="489.5" cy="1214.6" r="3.65" fill="none" stroke="#111" stroke-width="1.6"/>
<line x1="485.1" y1="1205.2" x2="503.5" y2="1205.2" stroke="#ff1a1a" stroke-width="3.4"/>
<circle cx="518.6" cy="1173.2" r="3.65" fill="none" stroke="#111" stroke-width="1.6"/>
<circle cx="523.4" cy="1177.9" r="3.65" fill="none" stroke="#111" stroke-width="1.6"/>
<circle cx="527.1" cy="1175.7" r="3.65" fill="none" stroke="#111" stroke-width="1.6"/>
<line x1="513.1999999999999" y1="1175.7" x2="531.6" y2="1175.7" stroke="#ff1a1a" stroke-width="3.4"/>
<circle cx="546.9" cy="1165.3" r="3.65" fill="none" stroke="#111" stroke-width="1.6"/>
<circle cx="551" cy="1174.7" r="3.65" fill="none" stroke="#111" stroke-width="1.6"/>
<circle cx="555.4" cy="1170" r="3.65" fill="none" stroke="#111" stroke-width="1.6"/>
<line x1="541.5" y1="1170" x2="559.9000000000001" y2="1170" stroke="#ff1a1a" stroke-width="3.4"/>
<circle cx="575.1" cy="1148" r="3.65" fill="none" stroke="#111" stroke-width="1.6"/>
<circle cx="584.6" cy="1154.3" r="3.65" fill="none" stroke="#111" stroke-width="1.6"/>
<circle cx="579.2" cy="1166.3" r="3.65" fill="none" stroke="#111" stroke-width="1.6"/>
<line x1="569.8" y1="1156.2" x2="588.2" y2="1156.2" stroke="#ff1a1a" stroke-width="3.4"/>
<circle cx="603.4" cy="1182" r="3.65" fill="none" stroke="#111" stroke-width="1.6"/>
<circle cx="613.4" cy="1184.8" r="3.65" fill="none" stroke="#111" stroke-width="1.6"/>
<circle cx="608.1" cy="1200.5" r="3.65" fill="none" stroke="#111" stroke-width="1.6"/>
<line x1="598.4" y1="1189.8" x2="616.8000000000001" y2="1189.8" stroke="#ff1a1a" stroke-width="3.4"/>
<circle cx="637" cy="1171" r="3.65" fill="none" stroke="#111" stroke-width="1.6"/>
<circle cx="641.4" cy="1183.2" r="3.65" fill="none" stroke="#111" stroke-width="1.6"/>
<circle cx="632" cy="1191" r="3.65" fill="none" stroke="#111" stroke-width="1.6"/>
<line x1="626.8" y1="1182" x2="645.2" y2="1182" stroke="#ff1a1a" stroke-width="3.4"/>
<circle cx="665.2" cy="1112.9" r="3.65" fill="none" stroke="#111" stroke-width="1.6"/>
<circle cx="670.2" cy="1115.7" r="3.65" fill="none" stroke="#111" stroke-width="1.6"/>
<circle cx="660.5" cy="1126.7" r="3.65" fill="none" stroke="#111" stroke-width="1.6"/>
<line x1="655.4" y1="1118.9" x2="673.8000000000001" y2="1118.9" stroke="#ff1a1a" stroke-width="3.4"/>
<text x="466.8" y="1184.2" font-size="12" text-anchor="middle" fill="#222">n.s.</text>
<text x="494.3" y="1183.2" font-size="12" text-anchor="middle" fill="#222">n.s.</text>
<text x="551.3" y="1152.8" font-size="12" text-anchor="middle" fill="#222">n.s.</text>
<text x="636.7" y="1156" font-size="12" text-anchor="middle" fill="#222">n.s.</text>
<text x="579.2" y="1137.5" font-size="12" text-anchor="middle" fill="#222">*</text>
<text x="665.4" y="1107" font-size="13" font-weight="bold" text-anchor="middle" fill="#222" letter-spacing="1.2">***</text>
<text x="380" y="1192" font-size="12" font-weight="bold" text-anchor="middle" fill="#111" transform="rotate(-90 380 1192)">% of cells with &gt; 10 RAD51 foci</text>
<text x="420.7" y="1302.4" font-size="11.7" font-weight="bold" text-anchor="end" fill="#111">ATL</text>
<text x="420.7" y="1317" font-size="11.7" font-weight="bold" text-anchor="end" fill="#111">Olaparib</text>
<line x1="435.79999999999995" y1="1298.6" x2="439.0" y2="1298.6" stroke="#111" stroke-width="1.6"/>
<line x1="435.79999999999995" y1="1313.2" x2="439.0" y2="1313.2" stroke="#111" stroke-width="1.6"/>
<line x1="462.75" y1="1298.6" x2="469.25" y2="1298.6" stroke="#111" stroke-width="1.6"/>
<line x1="466" y1="1295.35" x2="466" y2="1301.85" stroke="#111" stroke-width="1.6"/>
<line x1="464.4" y1="1313.2" x2="467.6" y2="1313.2" stroke="#111" stroke-width="1.6"/>
<line x1="491.05" y1="1298.6" x2="497.55" y2="1298.6" stroke="#111" stroke-width="1.6"/>
<line x1="494.3" y1="1295.35" x2="494.3" y2="1301.85" stroke="#111" stroke-width="1.6"/>
<line x1="491.05" y1="1313.2" x2="497.55" y2="1313.2" stroke="#111" stroke-width="1.6"/>
<line x1="494.3" y1="1309.95" x2="494.3" y2="1316.45" stroke="#111" stroke-width="1.6"/>
<line x1="520.8" y1="1298.6" x2="524.0" y2="1298.6" stroke="#111" stroke-width="1.6"/>
<line x1="520.8" y1="1313.2" x2="524.0" y2="1313.2" stroke="#111" stroke-width="1.6"/>
<line x1="547.45" y1="1298.6" x2="553.95" y2="1298.6" stroke="#111" stroke-width="1.6"/>
<line x1="550.7" y1="1295.35" x2="550.7" y2="1301.85" stroke="#111" stroke-width="1.6"/>
<line x1="549.1" y1="1313.2" x2="552.3000000000001" y2="1313.2" stroke="#111" stroke-width="1.6"/>
<line x1="575.75" y1="1298.6" x2="582.25" y2="1298.6" stroke="#111" stroke-width="1.6"/>
<line x1="579" y1="1295.35" x2="579" y2="1301.85" stroke="#111" stroke-width="1.6"/>
<line x1="575.75" y1="1313.2" x2="582.25" y2="1313.2" stroke="#111" stroke-width="1.6"/>
<line x1="579" y1="1309.95" x2="579" y2="1316.45" stroke="#111" stroke-width="1.6"/>
<line x1="606.0" y1="1298.6" x2="609.2" y2="1298.6" stroke="#111" stroke-width="1.6"/>
<line x1="606.0" y1="1313.2" x2="609.2" y2="1313.2" stroke="#111" stroke-width="1.6"/>
<line x1="632.75" y1="1298.6" x2="639.25" y2="1298.6" stroke="#111" stroke-width="1.6"/>
<line x1="636" y1="1295.35" x2="636" y2="1301.85" stroke="#111" stroke-width="1.6"/>
<line x1="634.4" y1="1313.2" x2="637.6" y2="1313.2" stroke="#111" stroke-width="1.6"/>
<line x1="661.35" y1="1298.6" x2="667.85" y2="1298.6" stroke="#111" stroke-width="1.6"/>
<line x1="664.6" y1="1295.35" x2="664.6" y2="1301.85" stroke="#111" stroke-width="1.6"/>
<line x1="661.35" y1="1313.2" x2="667.85" y2="1313.2" stroke="#111" stroke-width="1.6"/>
<line x1="664.6" y1="1309.95" x2="664.6" y2="1316.45" stroke="#111" stroke-width="1.6"/>
<line x1="433.9" y1="1325.8" x2="498" y2="1325.8" stroke="#000" stroke-width="2.2"/>
<line x1="518.6" y1="1325.8" x2="575.5" y2="1325.8" stroke="#000" stroke-width="2.2"/>
<line x1="604.1" y1="1325.8" x2="669" y2="1325.8" stroke="#000" stroke-width="2.2"/>
<line x1="575" y1="1326.3" x2="582.8" y2="1326.3" stroke="#333" stroke-width="1"/>
<text x="331" y="1341.8" font-size="11.9" font-weight="bold" text-anchor="start" fill="#111">Time post IR (h)</text>
<text x="466" y="1341.8" font-size="12" font-weight="bold" text-anchor="middle" fill="#111">2</text>
<text x="550.7" y="1341.8" font-size="12" font-weight="bold" text-anchor="middle" fill="#111">6</text>
<text x="636.3" y="1341.8" font-size="12" font-weight="bold" text-anchor="middle" fill="#111">24</text>
</svg>
</body></html>
